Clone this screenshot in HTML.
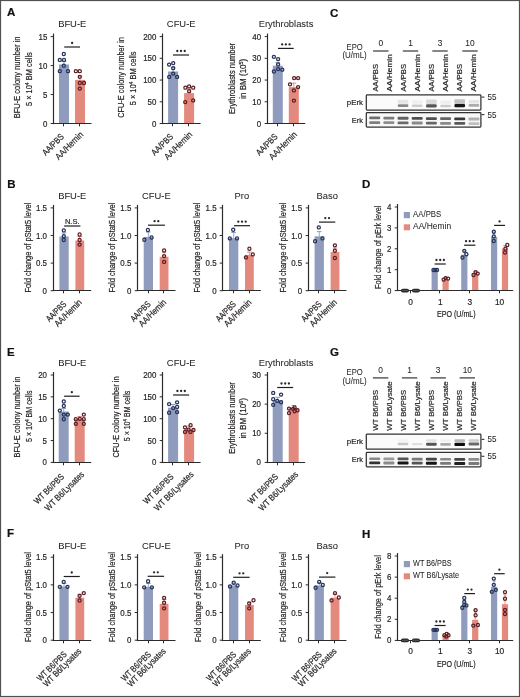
<!DOCTYPE html><html><head><meta charset="utf-8"><style>html,body{margin:0;padding:0;background:#fff;}svg{display:block;will-change:transform;font-family:"Liberation Sans", sans-serif;}</style></head><body><svg width="520" height="697" viewBox="0 0 520 697" fill="#231f20"><rect x="0.5" y="0.5" width="519" height="696" fill="none" stroke="#505050" stroke-width="1.2"/>
<text x="7.00" y="16.30" font-size="11.5" text-anchor="start" stroke="#111" stroke-width="0.2" font-weight="bold" fill="#111">A</text>
<text x="330.00" y="16.60" font-size="11.5" text-anchor="start" stroke="#111" stroke-width="0.2" font-weight="bold" fill="#111">C</text>
<text x="7.30" y="188.20" font-size="11.5" text-anchor="start" stroke="#111" stroke-width="0.2" font-weight="bold" fill="#111">B</text>
<text x="362.00" y="188.20" font-size="11.5" text-anchor="start" stroke="#111" stroke-width="0.2" font-weight="bold" fill="#111">D</text>
<text x="7.00" y="355.50" font-size="11.5" text-anchor="start" stroke="#111" stroke-width="0.2" font-weight="bold" fill="#111">E</text>
<text x="330.00" y="355.50" font-size="11.5" text-anchor="start" stroke="#111" stroke-width="0.2" font-weight="bold" fill="#111">G</text>
<text x="7.00" y="537.40" font-size="11.5" text-anchor="start" stroke="#111" stroke-width="0.2" font-weight="bold" fill="#111">F</text>
<text x="362.00" y="537.60" font-size="11.5" text-anchor="start" stroke="#111" stroke-width="0.2" font-weight="bold" fill="#111">H</text>
<rect x="59.00" y="64.50" width="10.00" height="59.00" fill="#8f9cbd"/>
<rect x="75.00" y="79.90" width="10.00" height="43.60" fill="#e3897d"/>
<line x1="64.00" y1="64.50" x2="64.00" y2="61.50" stroke="#8f9cbd" stroke-width="0.9"/>
<line x1="61.70" y1="61.50" x2="66.30" y2="61.50" stroke="#8f9cbd" stroke-width="1.0"/>
<line x1="80.00" y1="79.90" x2="80.00" y2="76.00" stroke="#e3897d" stroke-width="0.9"/>
<line x1="77.70" y1="76.00" x2="82.30" y2="76.00" stroke="#e3897d" stroke-width="1.0"/>
<line x1="53.50" y1="33.60" x2="53.50" y2="124.10" stroke="#2b2b2b" stroke-width="1.2"/>
<line x1="52.90" y1="123.50" x2="91.50" y2="123.50" stroke="#2b2b2b" stroke-width="1.2"/>
<line x1="50.70" y1="123.50" x2="53.50" y2="123.50" stroke="#2b2b2b" stroke-width="1.0"/>
<text x="47.30" y="126.58" font-size="8.8" text-anchor="end" stroke="#231f20" stroke-width="0.2" textLength="4.4" lengthAdjust="spacingAndGlyphs">0</text>
<line x1="50.70" y1="94.53" x2="53.50" y2="94.53" stroke="#2b2b2b" stroke-width="1.0"/>
<text x="47.30" y="97.61" font-size="8.8" text-anchor="end" stroke="#231f20" stroke-width="0.2" textLength="4.4" lengthAdjust="spacingAndGlyphs">5</text>
<line x1="50.70" y1="65.57" x2="53.50" y2="65.57" stroke="#2b2b2b" stroke-width="1.0"/>
<text x="47.30" y="68.65" font-size="8.8" text-anchor="end" stroke="#231f20" stroke-width="0.2" textLength="8.81" lengthAdjust="spacingAndGlyphs">10</text>
<line x1="50.70" y1="36.60" x2="53.50" y2="36.60" stroke="#2b2b2b" stroke-width="1.0"/>
<text x="47.30" y="39.68" font-size="8.8" text-anchor="end" stroke="#231f20" stroke-width="0.2" textLength="8.81" lengthAdjust="spacingAndGlyphs">15</text>
<line x1="63.50" y1="123.50" x2="63.50" y2="126.30" stroke="#2b2b2b" stroke-width="1.0"/>
<line x1="79.50" y1="123.50" x2="79.50" y2="126.30" stroke="#2b2b2b" stroke-width="1.0"/>
<circle cx="63.80" cy="54.00" r="1.55" fill="none" stroke="#26345a" stroke-width="1.25"/>
<circle cx="59.80" cy="59.90" r="1.55" fill="none" stroke="#26345a" stroke-width="1.25"/>
<circle cx="64.00" cy="59.90" r="1.55" fill="none" stroke="#26345a" stroke-width="1.25"/>
<circle cx="63.80" cy="65.70" r="1.55" fill="none" stroke="#26345a" stroke-width="1.25"/>
<circle cx="59.80" cy="71.20" r="1.55" fill="none" stroke="#26345a" stroke-width="1.25"/>
<circle cx="68.00" cy="71.20" r="1.55" fill="none" stroke="#26345a" stroke-width="1.25"/>
<circle cx="75.90" cy="71.20" r="1.55" fill="none" stroke="#5e2028" stroke-width="1.25"/>
<circle cx="79.80" cy="71.20" r="1.55" fill="none" stroke="#5e2028" stroke-width="1.25"/>
<circle cx="79.80" cy="76.80" r="1.55" fill="none" stroke="#5e2028" stroke-width="1.25"/>
<circle cx="79.80" cy="83.00" r="1.55" fill="none" stroke="#5e2028" stroke-width="1.25"/>
<circle cx="84.00" cy="83.00" r="1.55" fill="none" stroke="#5e2028" stroke-width="1.25"/>
<circle cx="79.80" cy="88.60" r="1.55" fill="none" stroke="#5e2028" stroke-width="1.25"/>
<text x="72.20" y="27.30" font-size="9.4" text-anchor="middle" stroke="#231f20" stroke-width="0.05">BFU-E</text>
<text x="20.20" y="77.40" font-size="8.8" text-anchor="middle" stroke="#231f20" stroke-width="0.2" textLength="81.7" lengthAdjust="spacingAndGlyphs" transform="rotate(-90 20.20 77.40)">BFU-E colony number in</text>
<text x="31.70" y="79.10" font-size="8.8" text-anchor="middle" stroke="#231f20" stroke-width="0.2" textLength="53.8" lengthAdjust="spacingAndGlyphs" transform="rotate(-90 31.70 79.10)">5 × 10<tspan dy="-3" font-size="6">4</tspan><tspan dy="3"> BM cells</tspan></text>
<line x1="64.20" y1="47.00" x2="80.00" y2="47.00" stroke="#1e1e1e" stroke-width="1.2"/>
<circle cx="72.10" cy="43.00" r="1.15" fill="#262626"/>
<text x="64.50" y="137.30" font-size="8.9" text-anchor="end" stroke="#231f20" stroke-width="0.2" textLength="26.5" lengthAdjust="spacingAndGlyphs" transform="rotate(-45 64.50 137.30)">AA/PBS</text>
<text x="83.80" y="135.10" font-size="8.9" text-anchor="end" stroke="#231f20" stroke-width="0.2" textLength="35.5" lengthAdjust="spacingAndGlyphs" transform="rotate(-45 83.80 135.10)">AA/Hemin</text>
<rect x="168.10" y="71.50" width="10.00" height="52.00" fill="#8f9cbd"/>
<rect x="184.10" y="93.10" width="10.00" height="30.40" fill="#e3897d"/>
<line x1="173.10" y1="71.50" x2="173.10" y2="67.50" stroke="#8f9cbd" stroke-width="0.9"/>
<line x1="170.80" y1="67.50" x2="175.40" y2="67.50" stroke="#8f9cbd" stroke-width="1.0"/>
<line x1="189.10" y1="93.10" x2="189.10" y2="89.00" stroke="#e3897d" stroke-width="0.9"/>
<line x1="186.80" y1="89.00" x2="191.40" y2="89.00" stroke="#e3897d" stroke-width="1.0"/>
<line x1="162.50" y1="33.60" x2="162.50" y2="124.10" stroke="#2b2b2b" stroke-width="1.2"/>
<line x1="161.90" y1="123.50" x2="200.60" y2="123.50" stroke="#2b2b2b" stroke-width="1.2"/>
<line x1="159.70" y1="123.50" x2="162.50" y2="123.50" stroke="#2b2b2b" stroke-width="1.0"/>
<text x="156.40" y="126.58" font-size="8.8" text-anchor="end" stroke="#231f20" stroke-width="0.2" textLength="4.4" lengthAdjust="spacingAndGlyphs">0</text>
<line x1="159.70" y1="101.78" x2="162.50" y2="101.78" stroke="#2b2b2b" stroke-width="1.0"/>
<text x="156.40" y="104.86" font-size="8.8" text-anchor="end" stroke="#231f20" stroke-width="0.2" textLength="8.81" lengthAdjust="spacingAndGlyphs">50</text>
<line x1="159.70" y1="80.05" x2="162.50" y2="80.05" stroke="#2b2b2b" stroke-width="1.0"/>
<text x="156.40" y="83.13" font-size="8.8" text-anchor="end" stroke="#231f20" stroke-width="0.2" textLength="13.21" lengthAdjust="spacingAndGlyphs">100</text>
<line x1="159.70" y1="58.32" x2="162.50" y2="58.32" stroke="#2b2b2b" stroke-width="1.0"/>
<text x="156.40" y="61.40" font-size="8.8" text-anchor="end" stroke="#231f20" stroke-width="0.2" textLength="13.21" lengthAdjust="spacingAndGlyphs">150</text>
<line x1="159.70" y1="36.60" x2="162.50" y2="36.60" stroke="#2b2b2b" stroke-width="1.0"/>
<text x="156.40" y="39.68" font-size="8.8" text-anchor="end" stroke="#231f20" stroke-width="0.2" textLength="13.21" lengthAdjust="spacingAndGlyphs">200</text>
<line x1="172.50" y1="123.50" x2="172.50" y2="126.30" stroke="#2b2b2b" stroke-width="1.0"/>
<line x1="188.50" y1="123.50" x2="188.50" y2="126.30" stroke="#2b2b2b" stroke-width="1.0"/>
<circle cx="169.10" cy="64.60" r="1.55" fill="none" stroke="#26345a" stroke-width="1.25"/>
<circle cx="173.20" cy="63.10" r="1.55" fill="none" stroke="#26345a" stroke-width="1.25"/>
<circle cx="173.20" cy="68.20" r="1.55" fill="none" stroke="#26345a" stroke-width="1.25"/>
<circle cx="173.20" cy="73.60" r="1.55" fill="none" stroke="#26345a" stroke-width="1.25"/>
<circle cx="169.20" cy="76.90" r="1.55" fill="none" stroke="#26345a" stroke-width="1.25"/>
<circle cx="177.10" cy="76.90" r="1.55" fill="none" stroke="#26345a" stroke-width="1.25"/>
<circle cx="185.40" cy="87.70" r="1.55" fill="none" stroke="#5e2028" stroke-width="1.25"/>
<circle cx="189.10" cy="86.40" r="1.55" fill="none" stroke="#5e2028" stroke-width="1.25"/>
<circle cx="193.20" cy="87.70" r="1.55" fill="none" stroke="#5e2028" stroke-width="1.25"/>
<circle cx="189.10" cy="91.20" r="1.55" fill="none" stroke="#5e2028" stroke-width="1.25"/>
<circle cx="185.20" cy="102.10" r="1.55" fill="none" stroke="#5e2028" stroke-width="1.25"/>
<circle cx="193.20" cy="100.40" r="1.55" fill="none" stroke="#5e2028" stroke-width="1.25"/>
<text x="181.20" y="27.30" font-size="9.4" text-anchor="middle" stroke="#231f20" stroke-width="0.05">CFU-E</text>
<text x="124.30" y="77.50" font-size="8.8" text-anchor="middle" stroke="#231f20" stroke-width="0.2" textLength="80.6" lengthAdjust="spacingAndGlyphs" transform="rotate(-90 124.30 77.50)">CFU-E colony number in</text>
<text x="135.80" y="78.40" font-size="8.8" text-anchor="middle" stroke="#231f20" stroke-width="0.2" textLength="53.8" lengthAdjust="spacingAndGlyphs" transform="rotate(-90 135.80 78.40)">5 × 10<tspan dy="-3" font-size="6">4</tspan><tspan dy="3"> BM cells</tspan></text>
<line x1="173.00" y1="55.00" x2="189.00" y2="55.00" stroke="#1e1e1e" stroke-width="1.2"/>
<circle cx="177.30" cy="51.00" r="1.15" fill="#262626"/>
<circle cx="181.00" cy="51.00" r="1.15" fill="#262626"/>
<circle cx="184.70" cy="51.00" r="1.15" fill="#262626"/>
<text x="173.60" y="137.30" font-size="8.9" text-anchor="end" stroke="#231f20" stroke-width="0.2" textLength="26.5" lengthAdjust="spacingAndGlyphs" transform="rotate(-45 173.60 137.30)">AA/PBS</text>
<text x="192.90" y="135.10" font-size="8.9" text-anchor="end" stroke="#231f20" stroke-width="0.2" textLength="35.5" lengthAdjust="spacingAndGlyphs" transform="rotate(-45 192.90 135.10)">AA/Hemin</text>
<rect x="272.80" y="65.70" width="10.00" height="57.80" fill="#8f9cbd"/>
<rect x="288.80" y="87.10" width="10.00" height="36.40" fill="#e3897d"/>
<line x1="277.80" y1="65.70" x2="277.80" y2="62.40" stroke="#8f9cbd" stroke-width="0.9"/>
<line x1="275.50" y1="62.40" x2="280.10" y2="62.40" stroke="#8f9cbd" stroke-width="1.0"/>
<line x1="293.80" y1="87.10" x2="293.80" y2="83.10" stroke="#e3897d" stroke-width="0.9"/>
<line x1="291.50" y1="83.10" x2="296.10" y2="83.10" stroke="#e3897d" stroke-width="1.0"/>
<line x1="267.50" y1="33.60" x2="267.50" y2="124.10" stroke="#2b2b2b" stroke-width="1.2"/>
<line x1="266.90" y1="123.50" x2="305.30" y2="123.50" stroke="#2b2b2b" stroke-width="1.2"/>
<line x1="264.70" y1="123.50" x2="267.50" y2="123.50" stroke="#2b2b2b" stroke-width="1.0"/>
<text x="261.10" y="126.58" font-size="8.8" text-anchor="end" stroke="#231f20" stroke-width="0.2" textLength="4.4" lengthAdjust="spacingAndGlyphs">0</text>
<line x1="264.70" y1="101.78" x2="267.50" y2="101.78" stroke="#2b2b2b" stroke-width="1.0"/>
<text x="261.10" y="104.86" font-size="8.8" text-anchor="end" stroke="#231f20" stroke-width="0.2" textLength="8.81" lengthAdjust="spacingAndGlyphs">10</text>
<line x1="264.70" y1="80.05" x2="267.50" y2="80.05" stroke="#2b2b2b" stroke-width="1.0"/>
<text x="261.10" y="83.13" font-size="8.8" text-anchor="end" stroke="#231f20" stroke-width="0.2" textLength="8.81" lengthAdjust="spacingAndGlyphs">20</text>
<line x1="264.70" y1="58.32" x2="267.50" y2="58.32" stroke="#2b2b2b" stroke-width="1.0"/>
<text x="261.10" y="61.40" font-size="8.8" text-anchor="end" stroke="#231f20" stroke-width="0.2" textLength="8.81" lengthAdjust="spacingAndGlyphs">30</text>
<line x1="264.70" y1="36.60" x2="267.50" y2="36.60" stroke="#2b2b2b" stroke-width="1.0"/>
<text x="261.10" y="39.68" font-size="8.8" text-anchor="end" stroke="#231f20" stroke-width="0.2" textLength="8.81" lengthAdjust="spacingAndGlyphs">40</text>
<line x1="277.50" y1="123.50" x2="277.50" y2="126.30" stroke="#2b2b2b" stroke-width="1.0"/>
<line x1="293.50" y1="123.50" x2="293.50" y2="126.30" stroke="#2b2b2b" stroke-width="1.0"/>
<circle cx="273.90" cy="56.80" r="1.55" fill="none" stroke="#26345a" stroke-width="1.25"/>
<circle cx="278.10" cy="59.10" r="1.55" fill="none" stroke="#26345a" stroke-width="1.25"/>
<circle cx="278.10" cy="64.40" r="1.55" fill="none" stroke="#26345a" stroke-width="1.25"/>
<circle cx="278.10" cy="69.10" r="1.55" fill="none" stroke="#26345a" stroke-width="1.25"/>
<circle cx="282.30" cy="69.70" r="1.55" fill="none" stroke="#26345a" stroke-width="1.25"/>
<circle cx="273.90" cy="71.50" r="1.55" fill="none" stroke="#26345a" stroke-width="1.25"/>
<circle cx="294.10" cy="78.10" r="1.55" fill="none" stroke="#5e2028" stroke-width="1.25"/>
<circle cx="298.10" cy="78.10" r="1.55" fill="none" stroke="#5e2028" stroke-width="1.25"/>
<circle cx="290.00" cy="84.30" r="1.55" fill="none" stroke="#5e2028" stroke-width="1.25"/>
<circle cx="298.10" cy="87.10" r="1.55" fill="none" stroke="#5e2028" stroke-width="1.25"/>
<circle cx="293.90" cy="90.40" r="1.55" fill="none" stroke="#5e2028" stroke-width="1.25"/>
<circle cx="293.90" cy="100.60" r="1.55" fill="none" stroke="#5e2028" stroke-width="1.25"/>
<text x="286.00" y="27.30" font-size="9.4" text-anchor="middle" stroke="#231f20" stroke-width="0.05">Erythroblasts</text>
<text x="234.90" y="78.40" font-size="8.8" text-anchor="middle" stroke="#231f20" stroke-width="0.2" textLength="71" lengthAdjust="spacingAndGlyphs" transform="rotate(-90 234.90 78.40)">Erythroblasts number</text>
<text x="245.60" y="78.70" font-size="8.8" text-anchor="middle" stroke="#231f20" stroke-width="0.2" textLength="40" lengthAdjust="spacingAndGlyphs" transform="rotate(-90 245.60 78.70)">in BM (10<tspan dy="-3" font-size="6">5</tspan><tspan dy="3">)</tspan></text>
<line x1="278.00" y1="48.40" x2="293.70" y2="48.40" stroke="#1e1e1e" stroke-width="1.2"/>
<circle cx="282.15" cy="44.40" r="1.15" fill="#262626"/>
<circle cx="285.85" cy="44.40" r="1.15" fill="#262626"/>
<circle cx="289.55" cy="44.40" r="1.15" fill="#262626"/>
<text x="278.30" y="137.30" font-size="8.9" text-anchor="end" stroke="#231f20" stroke-width="0.2" textLength="26.5" lengthAdjust="spacingAndGlyphs" transform="rotate(-45 278.30 137.30)">AA/PBS</text>
<text x="297.60" y="135.10" font-size="8.9" text-anchor="end" stroke="#231f20" stroke-width="0.2" textLength="35.5" lengthAdjust="spacingAndGlyphs" transform="rotate(-45 297.60 135.10)">AA/Hemin</text>
<rect x="58.70" y="411.50" width="10.00" height="50.90" fill="#8f9cbd"/>
<rect x="74.70" y="418.80" width="10.00" height="43.60" fill="#e3897d"/>
<line x1="63.70" y1="411.50" x2="63.70" y2="408.50" stroke="#8f9cbd" stroke-width="0.9"/>
<line x1="61.40" y1="408.50" x2="66.00" y2="408.50" stroke="#8f9cbd" stroke-width="1.0"/>
<line x1="79.70" y1="418.80" x2="79.70" y2="416.50" stroke="#e3897d" stroke-width="0.9"/>
<line x1="77.40" y1="416.50" x2="82.00" y2="416.50" stroke="#e3897d" stroke-width="1.0"/>
<line x1="53.50" y1="372.00" x2="53.50" y2="463.10" stroke="#2b2b2b" stroke-width="1.2"/>
<line x1="52.90" y1="462.50" x2="91.20" y2="462.50" stroke="#2b2b2b" stroke-width="1.2"/>
<line x1="50.70" y1="462.40" x2="53.50" y2="462.40" stroke="#2b2b2b" stroke-width="1.0"/>
<text x="47.00" y="465.48" font-size="8.8" text-anchor="end" stroke="#231f20" stroke-width="0.2" textLength="4.4" lengthAdjust="spacingAndGlyphs">0</text>
<line x1="50.70" y1="440.55" x2="53.50" y2="440.55" stroke="#2b2b2b" stroke-width="1.0"/>
<text x="47.00" y="443.63" font-size="8.8" text-anchor="end" stroke="#231f20" stroke-width="0.2" textLength="4.4" lengthAdjust="spacingAndGlyphs">5</text>
<line x1="50.70" y1="418.70" x2="53.50" y2="418.70" stroke="#2b2b2b" stroke-width="1.0"/>
<text x="47.00" y="421.78" font-size="8.8" text-anchor="end" stroke="#231f20" stroke-width="0.2" textLength="8.81" lengthAdjust="spacingAndGlyphs">10</text>
<line x1="50.70" y1="396.85" x2="53.50" y2="396.85" stroke="#2b2b2b" stroke-width="1.0"/>
<text x="47.00" y="399.93" font-size="8.8" text-anchor="end" stroke="#231f20" stroke-width="0.2" textLength="8.81" lengthAdjust="spacingAndGlyphs">15</text>
<line x1="50.70" y1="375.00" x2="53.50" y2="375.00" stroke="#2b2b2b" stroke-width="1.0"/>
<text x="47.00" y="378.08" font-size="8.8" text-anchor="end" stroke="#231f20" stroke-width="0.2" textLength="8.81" lengthAdjust="spacingAndGlyphs">20</text>
<line x1="63.50" y1="462.50" x2="63.50" y2="465.30" stroke="#2b2b2b" stroke-width="1.0"/>
<line x1="79.50" y1="462.50" x2="79.50" y2="465.30" stroke="#2b2b2b" stroke-width="1.0"/>
<circle cx="63.80" cy="401.50" r="1.55" fill="none" stroke="#26345a" stroke-width="1.25"/>
<circle cx="63.80" cy="405.90" r="1.55" fill="none" stroke="#26345a" stroke-width="1.25"/>
<circle cx="59.80" cy="410.60" r="1.55" fill="none" stroke="#26345a" stroke-width="1.25"/>
<circle cx="63.80" cy="414.60" r="1.55" fill="none" stroke="#26345a" stroke-width="1.25"/>
<circle cx="67.80" cy="414.60" r="1.55" fill="none" stroke="#26345a" stroke-width="1.25"/>
<circle cx="63.80" cy="419.20" r="1.55" fill="none" stroke="#26345a" stroke-width="1.25"/>
<circle cx="83.80" cy="414.60" r="1.55" fill="none" stroke="#5e2028" stroke-width="1.25"/>
<circle cx="75.80" cy="419.20" r="1.55" fill="none" stroke="#5e2028" stroke-width="1.25"/>
<circle cx="79.80" cy="418.80" r="1.55" fill="none" stroke="#5e2028" stroke-width="1.25"/>
<circle cx="83.80" cy="419.20" r="1.55" fill="none" stroke="#5e2028" stroke-width="1.25"/>
<circle cx="75.80" cy="423.80" r="1.55" fill="none" stroke="#5e2028" stroke-width="1.25"/>
<circle cx="83.80" cy="423.80" r="1.55" fill="none" stroke="#5e2028" stroke-width="1.25"/>
<text x="72.20" y="366.10" font-size="9.4" text-anchor="middle" stroke="#231f20" stroke-width="0.05">BFU-E</text>
<text x="20.20" y="417.00" font-size="8.8" text-anchor="middle" stroke="#231f20" stroke-width="0.2" textLength="81" lengthAdjust="spacingAndGlyphs" transform="rotate(-90 20.20 417.00)">BFU-E colony number in</text>
<text x="31.60" y="416.30" font-size="8.8" text-anchor="middle" stroke="#231f20" stroke-width="0.2" textLength="51.5" lengthAdjust="spacingAndGlyphs" transform="rotate(-90 31.60 416.30)">5 × 10<tspan dy="-3" font-size="6">4</tspan><tspan dy="3"> BM cells</tspan></text>
<line x1="64.10" y1="396.20" x2="79.60" y2="396.20" stroke="#1e1e1e" stroke-width="1.2"/>
<circle cx="71.85" cy="392.20" r="1.15" fill="#262626"/>
<text x="64.70" y="477.40" font-size="8.9" text-anchor="end" stroke="#231f20" stroke-width="0.2" textLength="38.5" lengthAdjust="spacingAndGlyphs" transform="rotate(-45 64.70 477.40)">WT B6/PBS</text>
<text x="84.70" y="475.00" font-size="8.9" text-anchor="end" stroke="#231f20" stroke-width="0.2" textLength="51.5" lengthAdjust="spacingAndGlyphs" transform="rotate(-45 84.70 475.00)">WT B6/Lysates</text>
<rect x="168.10" y="407.70" width="10.00" height="54.70" fill="#8f9cbd"/>
<rect x="184.10" y="429.20" width="10.00" height="33.20" fill="#e3897d"/>
<line x1="173.10" y1="407.70" x2="173.10" y2="404.50" stroke="#8f9cbd" stroke-width="0.9"/>
<line x1="170.80" y1="404.50" x2="175.40" y2="404.50" stroke="#8f9cbd" stroke-width="1.0"/>
<line x1="189.10" y1="429.20" x2="189.10" y2="426.00" stroke="#e3897d" stroke-width="0.9"/>
<line x1="186.80" y1="426.00" x2="191.40" y2="426.00" stroke="#e3897d" stroke-width="1.0"/>
<line x1="162.50" y1="372.00" x2="162.50" y2="463.10" stroke="#2b2b2b" stroke-width="1.2"/>
<line x1="161.90" y1="462.50" x2="200.60" y2="462.50" stroke="#2b2b2b" stroke-width="1.2"/>
<line x1="159.70" y1="462.40" x2="162.50" y2="462.40" stroke="#2b2b2b" stroke-width="1.0"/>
<text x="156.40" y="465.48" font-size="8.8" text-anchor="end" stroke="#231f20" stroke-width="0.2" textLength="4.4" lengthAdjust="spacingAndGlyphs">0</text>
<line x1="159.70" y1="440.55" x2="162.50" y2="440.55" stroke="#2b2b2b" stroke-width="1.0"/>
<text x="156.40" y="443.63" font-size="8.8" text-anchor="end" stroke="#231f20" stroke-width="0.2" textLength="8.81" lengthAdjust="spacingAndGlyphs">50</text>
<line x1="159.70" y1="418.70" x2="162.50" y2="418.70" stroke="#2b2b2b" stroke-width="1.0"/>
<text x="156.40" y="421.78" font-size="8.8" text-anchor="end" stroke="#231f20" stroke-width="0.2" textLength="13.21" lengthAdjust="spacingAndGlyphs">100</text>
<line x1="159.70" y1="396.85" x2="162.50" y2="396.85" stroke="#2b2b2b" stroke-width="1.0"/>
<text x="156.40" y="399.93" font-size="8.8" text-anchor="end" stroke="#231f20" stroke-width="0.2" textLength="13.21" lengthAdjust="spacingAndGlyphs">150</text>
<line x1="159.70" y1="375.00" x2="162.50" y2="375.00" stroke="#2b2b2b" stroke-width="1.0"/>
<text x="156.40" y="378.08" font-size="8.8" text-anchor="end" stroke="#231f20" stroke-width="0.2" textLength="13.21" lengthAdjust="spacingAndGlyphs">200</text>
<line x1="172.50" y1="462.50" x2="172.50" y2="465.30" stroke="#2b2b2b" stroke-width="1.0"/>
<line x1="188.50" y1="462.50" x2="188.50" y2="465.30" stroke="#2b2b2b" stroke-width="1.0"/>
<circle cx="169.10" cy="404.10" r="1.55" fill="none" stroke="#26345a" stroke-width="1.25"/>
<circle cx="177.10" cy="402.30" r="1.55" fill="none" stroke="#26345a" stroke-width="1.25"/>
<circle cx="173.20" cy="408.10" r="1.55" fill="none" stroke="#26345a" stroke-width="1.25"/>
<circle cx="177.10" cy="406.90" r="1.55" fill="none" stroke="#26345a" stroke-width="1.25"/>
<circle cx="169.10" cy="412.70" r="1.55" fill="none" stroke="#26345a" stroke-width="1.25"/>
<circle cx="177.10" cy="412.10" r="1.55" fill="none" stroke="#26345a" stroke-width="1.25"/>
<circle cx="190.60" cy="425.20" r="1.55" fill="none" stroke="#5e2028" stroke-width="1.25"/>
<circle cx="185.00" cy="427.30" r="1.55" fill="none" stroke="#5e2028" stroke-width="1.25"/>
<circle cx="188.60" cy="429.60" r="1.55" fill="none" stroke="#5e2028" stroke-width="1.25"/>
<circle cx="193.50" cy="430.00" r="1.55" fill="none" stroke="#5e2028" stroke-width="1.25"/>
<circle cx="185.00" cy="431.90" r="1.55" fill="none" stroke="#5e2028" stroke-width="1.25"/>
<circle cx="190.40" cy="431.90" r="1.55" fill="none" stroke="#5e2028" stroke-width="1.25"/>
<text x="181.20" y="366.10" font-size="9.4" text-anchor="middle" stroke="#231f20" stroke-width="0.05">CFU-E</text>
<text x="118.60" y="417.00" font-size="8.8" text-anchor="middle" stroke="#231f20" stroke-width="0.2" textLength="81" lengthAdjust="spacingAndGlyphs" transform="rotate(-90 118.60 417.00)">CFU-E colony number in</text>
<text x="130.10" y="415.90" font-size="8.8" text-anchor="middle" stroke="#231f20" stroke-width="0.2" textLength="50.5" lengthAdjust="spacingAndGlyphs" transform="rotate(-90 130.10 415.90)">5 × 10<tspan dy="-3" font-size="6">4</tspan><tspan dy="3"> BM cells</tspan></text>
<line x1="173.10" y1="395.00" x2="189.10" y2="395.00" stroke="#1e1e1e" stroke-width="1.2"/>
<circle cx="177.40" cy="391.00" r="1.15" fill="#262626"/>
<circle cx="181.10" cy="391.00" r="1.15" fill="#262626"/>
<circle cx="184.80" cy="391.00" r="1.15" fill="#262626"/>
<text x="174.10" y="477.40" font-size="8.9" text-anchor="end" stroke="#231f20" stroke-width="0.2" textLength="38.5" lengthAdjust="spacingAndGlyphs" transform="rotate(-45 174.10 477.40)">WT B6/PBS</text>
<text x="194.10" y="475.00" font-size="8.9" text-anchor="end" stroke="#231f20" stroke-width="0.2" textLength="51.5" lengthAdjust="spacingAndGlyphs" transform="rotate(-45 194.10 475.00)">WT B6/Lysates</text>
<rect x="272.70" y="400.40" width="10.00" height="62.00" fill="#8f9cbd"/>
<rect x="288.70" y="408.10" width="10.00" height="54.30" fill="#e3897d"/>
<line x1="277.70" y1="400.40" x2="277.70" y2="397.30" stroke="#8f9cbd" stroke-width="0.9"/>
<line x1="275.40" y1="397.30" x2="280.00" y2="397.30" stroke="#8f9cbd" stroke-width="1.0"/>
<line x1="293.70" y1="408.10" x2="293.70" y2="405.50" stroke="#e3897d" stroke-width="0.9"/>
<line x1="291.40" y1="405.50" x2="296.00" y2="405.50" stroke="#e3897d" stroke-width="1.0"/>
<line x1="267.50" y1="372.00" x2="267.50" y2="463.10" stroke="#2b2b2b" stroke-width="1.2"/>
<line x1="266.90" y1="462.50" x2="305.20" y2="462.50" stroke="#2b2b2b" stroke-width="1.2"/>
<line x1="264.70" y1="462.40" x2="267.50" y2="462.40" stroke="#2b2b2b" stroke-width="1.0"/>
<text x="261.00" y="465.48" font-size="8.8" text-anchor="end" stroke="#231f20" stroke-width="0.2" textLength="4.4" lengthAdjust="spacingAndGlyphs">0</text>
<line x1="264.70" y1="433.27" x2="267.50" y2="433.27" stroke="#2b2b2b" stroke-width="1.0"/>
<text x="261.00" y="436.35" font-size="8.8" text-anchor="end" stroke="#231f20" stroke-width="0.2" textLength="8.81" lengthAdjust="spacingAndGlyphs">10</text>
<line x1="264.70" y1="404.13" x2="267.50" y2="404.13" stroke="#2b2b2b" stroke-width="1.0"/>
<text x="261.00" y="407.21" font-size="8.8" text-anchor="end" stroke="#231f20" stroke-width="0.2" textLength="8.81" lengthAdjust="spacingAndGlyphs">20</text>
<line x1="264.70" y1="375.00" x2="267.50" y2="375.00" stroke="#2b2b2b" stroke-width="1.0"/>
<text x="261.00" y="378.08" font-size="8.8" text-anchor="end" stroke="#231f20" stroke-width="0.2" textLength="8.81" lengthAdjust="spacingAndGlyphs">30</text>
<line x1="277.50" y1="462.50" x2="277.50" y2="465.30" stroke="#2b2b2b" stroke-width="1.0"/>
<line x1="293.50" y1="462.50" x2="293.50" y2="465.30" stroke="#2b2b2b" stroke-width="1.0"/>
<circle cx="273.20" cy="392.90" r="1.55" fill="none" stroke="#26345a" stroke-width="1.25"/>
<circle cx="281.10" cy="394.60" r="1.55" fill="none" stroke="#26345a" stroke-width="1.25"/>
<circle cx="273.20" cy="399.20" r="1.55" fill="none" stroke="#26345a" stroke-width="1.25"/>
<circle cx="277.20" cy="400.90" r="1.55" fill="none" stroke="#26345a" stroke-width="1.25"/>
<circle cx="281.10" cy="402.20" r="1.55" fill="none" stroke="#26345a" stroke-width="1.25"/>
<circle cx="273.20" cy="404.80" r="1.55" fill="none" stroke="#26345a" stroke-width="1.25"/>
<circle cx="289.00" cy="408.60" r="1.55" fill="none" stroke="#5e2028" stroke-width="1.25"/>
<circle cx="294.60" cy="407.30" r="1.55" fill="none" stroke="#5e2028" stroke-width="1.25"/>
<circle cx="294.60" cy="411.20" r="1.55" fill="none" stroke="#5e2028" stroke-width="1.25"/>
<circle cx="297.50" cy="410.20" r="1.55" fill="none" stroke="#5e2028" stroke-width="1.25"/>
<circle cx="289.00" cy="413.10" r="1.55" fill="none" stroke="#5e2028" stroke-width="1.25"/>
<circle cx="293.10" cy="408.80" r="1.55" fill="none" stroke="#5e2028" stroke-width="1.25"/>
<text x="286.00" y="366.10" font-size="9.4" text-anchor="middle" stroke="#231f20" stroke-width="0.05">Erythroblasts</text>
<text x="234.90" y="418.00" font-size="8.8" text-anchor="middle" stroke="#231f20" stroke-width="0.2" textLength="71.7" lengthAdjust="spacingAndGlyphs" transform="rotate(-90 234.90 418.00)">Erythroblasts number</text>
<text x="246.30" y="418.30" font-size="8.8" text-anchor="middle" stroke="#231f20" stroke-width="0.2" textLength="40.6" lengthAdjust="spacingAndGlyphs" transform="rotate(-90 246.30 418.30)">in BM (10<tspan dy="-3" font-size="6">6</tspan><tspan dy="3">)</tspan></text>
<line x1="277.20" y1="387.50" x2="293.20" y2="387.50" stroke="#1e1e1e" stroke-width="1.2"/>
<circle cx="281.50" cy="383.50" r="1.15" fill="#262626"/>
<circle cx="285.20" cy="383.50" r="1.15" fill="#262626"/>
<circle cx="288.90" cy="383.50" r="1.15" fill="#262626"/>
<text x="278.70" y="477.40" font-size="8.9" text-anchor="end" stroke="#231f20" stroke-width="0.2" textLength="38.5" lengthAdjust="spacingAndGlyphs" transform="rotate(-45 278.70 477.40)">WT B6/PBS</text>
<text x="298.70" y="475.00" font-size="8.9" text-anchor="end" stroke="#231f20" stroke-width="0.2" textLength="51.5" lengthAdjust="spacingAndGlyphs" transform="rotate(-45 298.70 475.00)">WT B6/Lysates</text>
<rect x="59.40" y="236.50" width="9.30" height="54.20" fill="#8f9cbd"/>
<rect x="75.40" y="240.50" width="8.80" height="50.20" fill="#e3897d"/>
<line x1="64.05" y1="236.50" x2="64.05" y2="233.00" stroke="#8f9cbd" stroke-width="0.9"/>
<line x1="61.75" y1="233.00" x2="66.35" y2="233.00" stroke="#8f9cbd" stroke-width="1.0"/>
<line x1="79.80" y1="240.50" x2="79.80" y2="236.50" stroke="#e3897d" stroke-width="0.9"/>
<line x1="77.50" y1="236.50" x2="82.10" y2="236.50" stroke="#e3897d" stroke-width="1.0"/>
<line x1="53.50" y1="204.90" x2="53.50" y2="291.10" stroke="#2b2b2b" stroke-width="1.2"/>
<line x1="52.90" y1="290.50" x2="91.20" y2="290.50" stroke="#2b2b2b" stroke-width="1.2"/>
<line x1="50.70" y1="290.70" x2="53.50" y2="290.70" stroke="#2b2b2b" stroke-width="1.0"/>
<text x="47.00" y="293.78" font-size="8.8" text-anchor="end" stroke="#231f20" stroke-width="0.2" textLength="4.4" lengthAdjust="spacingAndGlyphs">0</text>
<line x1="50.70" y1="263.10" x2="53.50" y2="263.10" stroke="#2b2b2b" stroke-width="1.0"/>
<text x="47.00" y="266.18" font-size="8.8" text-anchor="end" stroke="#231f20" stroke-width="0.2" textLength="11.01" lengthAdjust="spacingAndGlyphs">0.5</text>
<line x1="50.70" y1="235.50" x2="53.50" y2="235.50" stroke="#2b2b2b" stroke-width="1.0"/>
<text x="47.00" y="238.58" font-size="8.8" text-anchor="end" stroke="#231f20" stroke-width="0.2" textLength="11.01" lengthAdjust="spacingAndGlyphs">1.0</text>
<line x1="50.70" y1="207.90" x2="53.50" y2="207.90" stroke="#2b2b2b" stroke-width="1.0"/>
<text x="47.00" y="210.98" font-size="8.8" text-anchor="end" stroke="#231f20" stroke-width="0.2" textLength="11.01" lengthAdjust="spacingAndGlyphs">1.5</text>
<line x1="63.50" y1="290.50" x2="63.50" y2="293.30" stroke="#2b2b2b" stroke-width="1.0"/>
<line x1="79.50" y1="290.50" x2="79.50" y2="293.30" stroke="#2b2b2b" stroke-width="1.0"/>
<circle cx="63.80" cy="230.40" r="1.55" fill="none" stroke="#26345a" stroke-width="1.25"/>
<circle cx="63.80" cy="236.20" r="1.55" fill="none" stroke="#26345a" stroke-width="1.25"/>
<circle cx="63.80" cy="240.00" r="1.55" fill="none" stroke="#26345a" stroke-width="1.25"/>
<circle cx="79.60" cy="234.50" r="1.55" fill="none" stroke="#5e2028" stroke-width="1.25"/>
<circle cx="79.60" cy="240.00" r="1.55" fill="none" stroke="#5e2028" stroke-width="1.25"/>
<circle cx="79.60" cy="244.60" r="1.55" fill="none" stroke="#5e2028" stroke-width="1.25"/>
<text x="72.20" y="198.70" font-size="9.4" text-anchor="middle" stroke="#231f20" stroke-width="0.05">BFU-E</text>
<text x="30.90" y="247.60" font-size="8.8" text-anchor="middle" stroke="#231f20" stroke-width="0.2" textLength="90.0" lengthAdjust="spacingAndGlyphs" transform="rotate(-90 30.90 247.60)">Fold change of pStat5 level</text>
<line x1="64.10" y1="226.00" x2="80.40" y2="226.00" stroke="#1e1e1e" stroke-width="1.2"/>
<text x="72.25" y="223.60" font-size="7.7" text-anchor="middle" stroke="#231f20" stroke-width="0.2" textLength="14.6" lengthAdjust="spacingAndGlyphs">N.S.</text>
<text x="66.95" y="304.90" font-size="8.9" text-anchor="end" stroke="#231f20" stroke-width="0.2" textLength="24.5" lengthAdjust="spacingAndGlyphs" transform="rotate(-45 66.95 304.90)">AA/PBS</text>
<text x="82.40" y="302.90" font-size="8.9" text-anchor="end" stroke="#231f20" stroke-width="0.2" textLength="34.5" lengthAdjust="spacingAndGlyphs" transform="rotate(-45 82.40 302.90)">AA/Hemin</text>
<rect x="143.70" y="237.00" width="9.30" height="53.70" fill="#8f9cbd"/>
<rect x="159.70" y="256.80" width="8.80" height="33.90" fill="#e3897d"/>
<line x1="148.35" y1="237.00" x2="148.35" y2="232.00" stroke="#8f9cbd" stroke-width="0.9"/>
<line x1="146.05" y1="232.00" x2="150.65" y2="232.00" stroke="#8f9cbd" stroke-width="1.0"/>
<line x1="164.10" y1="256.80" x2="164.10" y2="252.00" stroke="#e3897d" stroke-width="0.9"/>
<line x1="161.80" y1="252.00" x2="166.40" y2="252.00" stroke="#e3897d" stroke-width="1.0"/>
<line x1="137.50" y1="204.90" x2="137.50" y2="291.10" stroke="#2b2b2b" stroke-width="1.2"/>
<line x1="136.90" y1="290.50" x2="175.50" y2="290.50" stroke="#2b2b2b" stroke-width="1.2"/>
<line x1="134.70" y1="290.70" x2="137.50" y2="290.70" stroke="#2b2b2b" stroke-width="1.0"/>
<text x="131.30" y="293.78" font-size="8.8" text-anchor="end" stroke="#231f20" stroke-width="0.2" textLength="4.4" lengthAdjust="spacingAndGlyphs">0</text>
<line x1="134.70" y1="263.10" x2="137.50" y2="263.10" stroke="#2b2b2b" stroke-width="1.0"/>
<text x="131.30" y="266.18" font-size="8.8" text-anchor="end" stroke="#231f20" stroke-width="0.2" textLength="11.01" lengthAdjust="spacingAndGlyphs">0.5</text>
<line x1="134.70" y1="235.50" x2="137.50" y2="235.50" stroke="#2b2b2b" stroke-width="1.0"/>
<text x="131.30" y="238.58" font-size="8.8" text-anchor="end" stroke="#231f20" stroke-width="0.2" textLength="11.01" lengthAdjust="spacingAndGlyphs">1.0</text>
<line x1="134.70" y1="207.90" x2="137.50" y2="207.90" stroke="#2b2b2b" stroke-width="1.0"/>
<text x="131.30" y="210.98" font-size="8.8" text-anchor="end" stroke="#231f20" stroke-width="0.2" textLength="11.01" lengthAdjust="spacingAndGlyphs">1.5</text>
<line x1="148.50" y1="290.50" x2="148.50" y2="293.30" stroke="#2b2b2b" stroke-width="1.0"/>
<line x1="163.50" y1="290.50" x2="163.50" y2="293.30" stroke="#2b2b2b" stroke-width="1.0"/>
<circle cx="147.90" cy="230.00" r="1.55" fill="none" stroke="#26345a" stroke-width="1.25"/>
<circle cx="144.30" cy="239.70" r="1.55" fill="none" stroke="#26345a" stroke-width="1.25"/>
<circle cx="151.60" cy="237.50" r="1.55" fill="none" stroke="#26345a" stroke-width="1.25"/>
<circle cx="164.10" cy="250.50" r="1.55" fill="none" stroke="#5e2028" stroke-width="1.25"/>
<circle cx="164.10" cy="256.10" r="1.55" fill="none" stroke="#5e2028" stroke-width="1.25"/>
<circle cx="164.10" cy="261.90" r="1.55" fill="none" stroke="#5e2028" stroke-width="1.25"/>
<text x="156.40" y="198.70" font-size="9.4" text-anchor="middle" stroke="#231f20" stroke-width="0.05">CFU-E</text>
<text x="115.20" y="247.60" font-size="8.8" text-anchor="middle" stroke="#231f20" stroke-width="0.2" textLength="90.0" lengthAdjust="spacingAndGlyphs" transform="rotate(-90 115.20 247.60)">Fold change of pStat5 level</text>
<line x1="148.00" y1="225.20" x2="164.90" y2="225.20" stroke="#1e1e1e" stroke-width="1.2"/>
<circle cx="154.60" cy="221.20" r="1.15" fill="#262626"/>
<circle cx="158.30" cy="221.20" r="1.15" fill="#262626"/>
<text x="151.25" y="304.90" font-size="8.9" text-anchor="end" stroke="#231f20" stroke-width="0.2" textLength="24.5" lengthAdjust="spacingAndGlyphs" transform="rotate(-45 151.25 304.90)">AA/PBS</text>
<text x="166.70" y="302.90" font-size="8.9" text-anchor="end" stroke="#231f20" stroke-width="0.2" textLength="34.5" lengthAdjust="spacingAndGlyphs" transform="rotate(-45 166.70 302.90)">AA/Hemin</text>
<rect x="229.00" y="238.10" width="9.30" height="52.60" fill="#8f9cbd"/>
<rect x="245.00" y="254.90" width="8.80" height="35.80" fill="#e3897d"/>
<line x1="233.65" y1="238.10" x2="233.65" y2="232.50" stroke="#8f9cbd" stroke-width="0.9"/>
<line x1="231.35" y1="232.50" x2="235.95" y2="232.50" stroke="#8f9cbd" stroke-width="1.0"/>
<line x1="249.40" y1="254.90" x2="249.40" y2="252.10" stroke="#e3897d" stroke-width="0.9"/>
<line x1="247.10" y1="252.10" x2="251.70" y2="252.10" stroke="#e3897d" stroke-width="1.0"/>
<line x1="222.50" y1="204.90" x2="222.50" y2="291.10" stroke="#2b2b2b" stroke-width="1.2"/>
<line x1="221.90" y1="290.50" x2="260.80" y2="290.50" stroke="#2b2b2b" stroke-width="1.2"/>
<line x1="219.70" y1="290.70" x2="222.50" y2="290.70" stroke="#2b2b2b" stroke-width="1.0"/>
<text x="216.60" y="293.78" font-size="8.8" text-anchor="end" stroke="#231f20" stroke-width="0.2" textLength="4.4" lengthAdjust="spacingAndGlyphs">0</text>
<line x1="219.70" y1="263.10" x2="222.50" y2="263.10" stroke="#2b2b2b" stroke-width="1.0"/>
<text x="216.60" y="266.18" font-size="8.8" text-anchor="end" stroke="#231f20" stroke-width="0.2" textLength="11.01" lengthAdjust="spacingAndGlyphs">0.5</text>
<line x1="219.70" y1="235.50" x2="222.50" y2="235.50" stroke="#2b2b2b" stroke-width="1.0"/>
<text x="216.60" y="238.58" font-size="8.8" text-anchor="end" stroke="#231f20" stroke-width="0.2" textLength="11.01" lengthAdjust="spacingAndGlyphs">1.0</text>
<line x1="219.70" y1="207.90" x2="222.50" y2="207.90" stroke="#2b2b2b" stroke-width="1.0"/>
<text x="216.60" y="210.98" font-size="8.8" text-anchor="end" stroke="#231f20" stroke-width="0.2" textLength="11.01" lengthAdjust="spacingAndGlyphs">1.5</text>
<line x1="233.50" y1="290.50" x2="233.50" y2="293.30" stroke="#2b2b2b" stroke-width="1.0"/>
<line x1="249.50" y1="290.50" x2="249.50" y2="293.30" stroke="#2b2b2b" stroke-width="1.0"/>
<circle cx="233.20" cy="229.70" r="1.55" fill="none" stroke="#26345a" stroke-width="1.25"/>
<circle cx="229.80" cy="238.40" r="1.55" fill="none" stroke="#26345a" stroke-width="1.25"/>
<circle cx="237.00" cy="238.40" r="1.55" fill="none" stroke="#26345a" stroke-width="1.25"/>
<circle cx="249.40" cy="248.70" r="1.55" fill="none" stroke="#5e2028" stroke-width="1.25"/>
<circle cx="252.80" cy="254.40" r="1.55" fill="none" stroke="#5e2028" stroke-width="1.25"/>
<circle cx="245.90" cy="257.40" r="1.55" fill="none" stroke="#5e2028" stroke-width="1.25"/>
<text x="241.80" y="198.70" font-size="9.4" text-anchor="middle" stroke="#231f20" stroke-width="0.05">Pro</text>
<text x="200.50" y="247.60" font-size="8.8" text-anchor="middle" stroke="#231f20" stroke-width="0.2" textLength="90.0" lengthAdjust="spacingAndGlyphs" transform="rotate(-90 200.50 247.60)">Fold change of pStat5 level</text>
<line x1="234.00" y1="225.70" x2="250.00" y2="225.70" stroke="#1e1e1e" stroke-width="1.2"/>
<circle cx="238.30" cy="221.70" r="1.15" fill="#262626"/>
<circle cx="242.00" cy="221.70" r="1.15" fill="#262626"/>
<circle cx="245.70" cy="221.70" r="1.15" fill="#262626"/>
<text x="236.55" y="304.90" font-size="8.9" text-anchor="end" stroke="#231f20" stroke-width="0.2" textLength="24.5" lengthAdjust="spacingAndGlyphs" transform="rotate(-45 236.55 304.90)">AA/PBS</text>
<text x="252.00" y="302.90" font-size="8.9" text-anchor="end" stroke="#231f20" stroke-width="0.2" textLength="34.5" lengthAdjust="spacingAndGlyphs" transform="rotate(-45 252.00 302.90)">AA/Hemin</text>
<rect x="314.60" y="236.30" width="9.30" height="54.40" fill="#8f9cbd"/>
<rect x="330.60" y="252.10" width="8.80" height="38.60" fill="#e3897d"/>
<line x1="319.25" y1="236.30" x2="319.25" y2="231.60" stroke="#8f9cbd" stroke-width="0.9"/>
<line x1="316.95" y1="231.60" x2="321.55" y2="231.60" stroke="#8f9cbd" stroke-width="1.0"/>
<line x1="335.00" y1="252.10" x2="335.00" y2="248.00" stroke="#e3897d" stroke-width="0.9"/>
<line x1="332.70" y1="248.00" x2="337.30" y2="248.00" stroke="#e3897d" stroke-width="1.0"/>
<line x1="308.50" y1="204.90" x2="308.50" y2="291.10" stroke="#2b2b2b" stroke-width="1.2"/>
<line x1="307.90" y1="290.50" x2="346.40" y2="290.50" stroke="#2b2b2b" stroke-width="1.2"/>
<line x1="305.70" y1="290.70" x2="308.50" y2="290.70" stroke="#2b2b2b" stroke-width="1.0"/>
<text x="302.20" y="293.78" font-size="8.8" text-anchor="end" stroke="#231f20" stroke-width="0.2" textLength="4.4" lengthAdjust="spacingAndGlyphs">0</text>
<line x1="305.70" y1="263.10" x2="308.50" y2="263.10" stroke="#2b2b2b" stroke-width="1.0"/>
<text x="302.20" y="266.18" font-size="8.8" text-anchor="end" stroke="#231f20" stroke-width="0.2" textLength="11.01" lengthAdjust="spacingAndGlyphs">0.5</text>
<line x1="305.70" y1="235.50" x2="308.50" y2="235.50" stroke="#2b2b2b" stroke-width="1.0"/>
<text x="302.20" y="238.58" font-size="8.8" text-anchor="end" stroke="#231f20" stroke-width="0.2" textLength="11.01" lengthAdjust="spacingAndGlyphs">1.0</text>
<line x1="305.70" y1="207.90" x2="308.50" y2="207.90" stroke="#2b2b2b" stroke-width="1.0"/>
<text x="302.20" y="210.98" font-size="8.8" text-anchor="end" stroke="#231f20" stroke-width="0.2" textLength="11.01" lengthAdjust="spacingAndGlyphs">1.5</text>
<line x1="318.50" y1="290.50" x2="318.50" y2="293.30" stroke="#2b2b2b" stroke-width="1.0"/>
<line x1="334.50" y1="290.50" x2="334.50" y2="293.30" stroke="#2b2b2b" stroke-width="1.0"/>
<circle cx="318.80" cy="227.40" r="1.55" fill="none" stroke="#26345a" stroke-width="1.25"/>
<circle cx="315.10" cy="241.20" r="1.55" fill="none" stroke="#26345a" stroke-width="1.25"/>
<circle cx="322.50" cy="238.40" r="1.55" fill="none" stroke="#26345a" stroke-width="1.25"/>
<circle cx="334.90" cy="245.30" r="1.55" fill="none" stroke="#5e2028" stroke-width="1.25"/>
<circle cx="334.90" cy="250.70" r="1.55" fill="none" stroke="#5e2028" stroke-width="1.25"/>
<circle cx="334.90" cy="258.00" r="1.55" fill="none" stroke="#5e2028" stroke-width="1.25"/>
<text x="327.20" y="198.70" font-size="9.4" text-anchor="middle" stroke="#231f20" stroke-width="0.05">Baso</text>
<text x="286.10" y="247.60" font-size="8.8" text-anchor="middle" stroke="#231f20" stroke-width="0.2" textLength="90.0" lengthAdjust="spacingAndGlyphs" transform="rotate(-90 286.10 247.60)">Fold change of pStat5 level</text>
<line x1="319.00" y1="222.10" x2="335.30" y2="222.10" stroke="#1e1e1e" stroke-width="1.2"/>
<circle cx="325.30" cy="218.10" r="1.15" fill="#262626"/>
<circle cx="329.00" cy="218.10" r="1.15" fill="#262626"/>
<text x="322.15" y="304.90" font-size="8.9" text-anchor="end" stroke="#231f20" stroke-width="0.2" textLength="24.5" lengthAdjust="spacingAndGlyphs" transform="rotate(-45 322.15 304.90)">AA/PBS</text>
<text x="337.60" y="302.90" font-size="8.9" text-anchor="end" stroke="#231f20" stroke-width="0.2" textLength="34.5" lengthAdjust="spacingAndGlyphs" transform="rotate(-45 337.60 302.90)">AA/Hemin</text>
<rect x="59.40" y="586.50" width="9.30" height="53.70" fill="#8f9cbd"/>
<rect x="75.40" y="597.70" width="8.80" height="42.50" fill="#e3897d"/>
<line x1="64.05" y1="586.50" x2="64.05" y2="583.50" stroke="#8f9cbd" stroke-width="0.9"/>
<line x1="61.75" y1="583.50" x2="66.35" y2="583.50" stroke="#8f9cbd" stroke-width="1.0"/>
<line x1="79.80" y1="597.70" x2="79.80" y2="594.20" stroke="#e3897d" stroke-width="0.9"/>
<line x1="77.50" y1="594.20" x2="82.10" y2="594.20" stroke="#e3897d" stroke-width="1.0"/>
<line x1="53.50" y1="554.20" x2="53.50" y2="641.10" stroke="#2b2b2b" stroke-width="1.2"/>
<line x1="52.90" y1="640.50" x2="91.20" y2="640.50" stroke="#2b2b2b" stroke-width="1.2"/>
<line x1="50.70" y1="640.20" x2="53.50" y2="640.20" stroke="#2b2b2b" stroke-width="1.0"/>
<text x="47.00" y="643.28" font-size="8.8" text-anchor="end" stroke="#231f20" stroke-width="0.2" textLength="4.4" lengthAdjust="spacingAndGlyphs">0</text>
<line x1="50.70" y1="612.53" x2="53.50" y2="612.53" stroke="#2b2b2b" stroke-width="1.0"/>
<text x="47.00" y="615.61" font-size="8.8" text-anchor="end" stroke="#231f20" stroke-width="0.2" textLength="11.01" lengthAdjust="spacingAndGlyphs">0.5</text>
<line x1="50.70" y1="584.87" x2="53.50" y2="584.87" stroke="#2b2b2b" stroke-width="1.0"/>
<text x="47.00" y="587.95" font-size="8.8" text-anchor="end" stroke="#231f20" stroke-width="0.2" textLength="11.01" lengthAdjust="spacingAndGlyphs">1.0</text>
<line x1="50.70" y1="557.20" x2="53.50" y2="557.20" stroke="#2b2b2b" stroke-width="1.0"/>
<text x="47.00" y="560.28" font-size="8.8" text-anchor="end" stroke="#231f20" stroke-width="0.2" textLength="11.01" lengthAdjust="spacingAndGlyphs">1.5</text>
<line x1="63.50" y1="640.50" x2="63.50" y2="643.30" stroke="#2b2b2b" stroke-width="1.0"/>
<line x1="79.50" y1="640.50" x2="79.50" y2="643.30" stroke="#2b2b2b" stroke-width="1.0"/>
<circle cx="63.70" cy="581.80" r="1.55" fill="none" stroke="#26345a" stroke-width="1.25"/>
<circle cx="59.80" cy="586.80" r="1.55" fill="none" stroke="#26345a" stroke-width="1.25"/>
<circle cx="67.50" cy="586.80" r="1.55" fill="none" stroke="#26345a" stroke-width="1.25"/>
<circle cx="83.80" cy="593.10" r="1.55" fill="none" stroke="#5e2028" stroke-width="1.25"/>
<circle cx="79.60" cy="595.80" r="1.55" fill="none" stroke="#5e2028" stroke-width="1.25"/>
<circle cx="79.60" cy="600.50" r="1.55" fill="none" stroke="#5e2028" stroke-width="1.25"/>
<text x="72.20" y="548.90" font-size="9.4" text-anchor="middle" stroke="#231f20" stroke-width="0.05">BFU-E</text>
<text x="30.90" y="597.00" font-size="8.8" text-anchor="middle" stroke="#231f20" stroke-width="0.2" textLength="90.0" lengthAdjust="spacingAndGlyphs" transform="rotate(-90 30.90 597.00)">Fold change of pStat5 level</text>
<line x1="63.70" y1="576.50" x2="79.80" y2="576.50" stroke="#1e1e1e" stroke-width="1.2"/>
<circle cx="71.75" cy="572.50" r="1.15" fill="#262626"/>
<text x="67.25" y="655.00" font-size="8.9" text-anchor="end" stroke="#231f20" stroke-width="0.2" textLength="38" lengthAdjust="spacingAndGlyphs" transform="rotate(-45 67.25 655.00)">WT B6/PBS</text>
<text x="82.00" y="651.80" font-size="8.9" text-anchor="end" stroke="#231f20" stroke-width="0.2" textLength="50" lengthAdjust="spacingAndGlyphs" transform="rotate(-45 82.00 651.80)">WT B6/Lysates</text>
<rect x="143.70" y="586.90" width="9.30" height="53.30" fill="#8f9cbd"/>
<rect x="159.70" y="603.80" width="8.80" height="36.40" fill="#e3897d"/>
<line x1="148.35" y1="586.90" x2="148.35" y2="583.50" stroke="#8f9cbd" stroke-width="0.9"/>
<line x1="146.05" y1="583.50" x2="150.65" y2="583.50" stroke="#8f9cbd" stroke-width="1.0"/>
<line x1="164.10" y1="603.80" x2="164.10" y2="599.50" stroke="#e3897d" stroke-width="0.9"/>
<line x1="161.80" y1="599.50" x2="166.40" y2="599.50" stroke="#e3897d" stroke-width="1.0"/>
<line x1="137.50" y1="554.20" x2="137.50" y2="641.10" stroke="#2b2b2b" stroke-width="1.2"/>
<line x1="136.90" y1="640.50" x2="175.50" y2="640.50" stroke="#2b2b2b" stroke-width="1.2"/>
<line x1="134.70" y1="640.20" x2="137.50" y2="640.20" stroke="#2b2b2b" stroke-width="1.0"/>
<text x="131.30" y="643.28" font-size="8.8" text-anchor="end" stroke="#231f20" stroke-width="0.2" textLength="4.4" lengthAdjust="spacingAndGlyphs">0</text>
<line x1="134.70" y1="612.53" x2="137.50" y2="612.53" stroke="#2b2b2b" stroke-width="1.0"/>
<text x="131.30" y="615.61" font-size="8.8" text-anchor="end" stroke="#231f20" stroke-width="0.2" textLength="11.01" lengthAdjust="spacingAndGlyphs">0.5</text>
<line x1="134.70" y1="584.87" x2="137.50" y2="584.87" stroke="#2b2b2b" stroke-width="1.0"/>
<text x="131.30" y="587.95" font-size="8.8" text-anchor="end" stroke="#231f20" stroke-width="0.2" textLength="11.01" lengthAdjust="spacingAndGlyphs">1.0</text>
<line x1="134.70" y1="557.20" x2="137.50" y2="557.20" stroke="#2b2b2b" stroke-width="1.0"/>
<text x="131.30" y="560.28" font-size="8.8" text-anchor="end" stroke="#231f20" stroke-width="0.2" textLength="11.01" lengthAdjust="spacingAndGlyphs">1.5</text>
<line x1="148.50" y1="640.50" x2="148.50" y2="643.30" stroke="#2b2b2b" stroke-width="1.0"/>
<line x1="163.50" y1="640.50" x2="163.50" y2="643.30" stroke="#2b2b2b" stroke-width="1.0"/>
<circle cx="148.10" cy="581.20" r="1.55" fill="none" stroke="#26345a" stroke-width="1.25"/>
<circle cx="144.20" cy="587.30" r="1.55" fill="none" stroke="#26345a" stroke-width="1.25"/>
<circle cx="151.90" cy="587.30" r="1.55" fill="none" stroke="#26345a" stroke-width="1.25"/>
<circle cx="164.10" cy="597.80" r="1.55" fill="none" stroke="#5e2028" stroke-width="1.25"/>
<circle cx="164.10" cy="602.70" r="1.55" fill="none" stroke="#5e2028" stroke-width="1.25"/>
<circle cx="164.10" cy="608.30" r="1.55" fill="none" stroke="#5e2028" stroke-width="1.25"/>
<text x="156.40" y="548.90" font-size="9.4" text-anchor="middle" stroke="#231f20" stroke-width="0.05">CFU-E</text>
<text x="115.20" y="597.00" font-size="8.8" text-anchor="middle" stroke="#231f20" stroke-width="0.2" textLength="90.0" lengthAdjust="spacingAndGlyphs" transform="rotate(-90 115.20 597.00)">Fold change of pStat5 level</text>
<line x1="147.70" y1="576.30" x2="164.10" y2="576.30" stroke="#1e1e1e" stroke-width="1.2"/>
<circle cx="154.05" cy="572.30" r="1.15" fill="#262626"/>
<circle cx="157.75" cy="572.30" r="1.15" fill="#262626"/>
<text x="151.55" y="655.00" font-size="8.9" text-anchor="end" stroke="#231f20" stroke-width="0.2" textLength="38" lengthAdjust="spacingAndGlyphs" transform="rotate(-45 151.55 655.00)">WT B6/PBS</text>
<text x="166.30" y="651.80" font-size="8.9" text-anchor="end" stroke="#231f20" stroke-width="0.2" textLength="50" lengthAdjust="spacingAndGlyphs" transform="rotate(-45 166.30 651.80)">WT B6/Lysates</text>
<rect x="229.00" y="585.40" width="9.30" height="54.80" fill="#8f9cbd"/>
<rect x="245.00" y="605.00" width="8.80" height="35.20" fill="#e3897d"/>
<line x1="233.65" y1="585.40" x2="233.65" y2="583.00" stroke="#8f9cbd" stroke-width="0.9"/>
<line x1="231.35" y1="583.00" x2="235.95" y2="583.00" stroke="#8f9cbd" stroke-width="1.0"/>
<line x1="249.40" y1="605.00" x2="249.40" y2="602.20" stroke="#e3897d" stroke-width="0.9"/>
<line x1="247.10" y1="602.20" x2="251.70" y2="602.20" stroke="#e3897d" stroke-width="1.0"/>
<line x1="222.50" y1="554.20" x2="222.50" y2="641.10" stroke="#2b2b2b" stroke-width="1.2"/>
<line x1="221.90" y1="640.50" x2="260.80" y2="640.50" stroke="#2b2b2b" stroke-width="1.2"/>
<line x1="219.70" y1="640.20" x2="222.50" y2="640.20" stroke="#2b2b2b" stroke-width="1.0"/>
<text x="216.60" y="643.28" font-size="8.8" text-anchor="end" stroke="#231f20" stroke-width="0.2" textLength="4.4" lengthAdjust="spacingAndGlyphs">0</text>
<line x1="219.70" y1="612.53" x2="222.50" y2="612.53" stroke="#2b2b2b" stroke-width="1.0"/>
<text x="216.60" y="615.61" font-size="8.8" text-anchor="end" stroke="#231f20" stroke-width="0.2" textLength="11.01" lengthAdjust="spacingAndGlyphs">0.5</text>
<line x1="219.70" y1="584.87" x2="222.50" y2="584.87" stroke="#2b2b2b" stroke-width="1.0"/>
<text x="216.60" y="587.95" font-size="8.8" text-anchor="end" stroke="#231f20" stroke-width="0.2" textLength="11.01" lengthAdjust="spacingAndGlyphs">1.0</text>
<line x1="219.70" y1="557.20" x2="222.50" y2="557.20" stroke="#2b2b2b" stroke-width="1.0"/>
<text x="216.60" y="560.28" font-size="8.8" text-anchor="end" stroke="#231f20" stroke-width="0.2" textLength="11.01" lengthAdjust="spacingAndGlyphs">1.5</text>
<line x1="233.50" y1="640.50" x2="233.50" y2="643.30" stroke="#2b2b2b" stroke-width="1.0"/>
<line x1="249.50" y1="640.50" x2="249.50" y2="643.30" stroke="#2b2b2b" stroke-width="1.0"/>
<circle cx="233.70" cy="582.70" r="1.55" fill="none" stroke="#26345a" stroke-width="1.25"/>
<circle cx="230.00" cy="586.50" r="1.55" fill="none" stroke="#26345a" stroke-width="1.25"/>
<circle cx="237.50" cy="585.50" r="1.55" fill="none" stroke="#26345a" stroke-width="1.25"/>
<circle cx="253.50" cy="600.20" r="1.55" fill="none" stroke="#5e2028" stroke-width="1.25"/>
<circle cx="249.20" cy="603.50" r="1.55" fill="none" stroke="#5e2028" stroke-width="1.25"/>
<circle cx="249.20" cy="608.30" r="1.55" fill="none" stroke="#5e2028" stroke-width="1.25"/>
<text x="241.80" y="548.90" font-size="9.4" text-anchor="middle" stroke="#231f20" stroke-width="0.05">Pro</text>
<text x="200.50" y="597.00" font-size="8.8" text-anchor="middle" stroke="#231f20" stroke-width="0.2" textLength="90.0" lengthAdjust="spacingAndGlyphs" transform="rotate(-90 200.50 597.00)">Fold change of pStat5 level</text>
<line x1="233.20" y1="577.30" x2="249.60" y2="577.30" stroke="#1e1e1e" stroke-width="1.2"/>
<circle cx="239.55" cy="573.30" r="1.15" fill="#262626"/>
<circle cx="243.25" cy="573.30" r="1.15" fill="#262626"/>
<text x="236.85" y="655.00" font-size="8.9" text-anchor="end" stroke="#231f20" stroke-width="0.2" textLength="38" lengthAdjust="spacingAndGlyphs" transform="rotate(-45 236.85 655.00)">WT B6/PBS</text>
<text x="251.60" y="651.80" font-size="8.9" text-anchor="end" stroke="#231f20" stroke-width="0.2" textLength="50" lengthAdjust="spacingAndGlyphs" transform="rotate(-45 251.60 651.80)">WT B6/Lysates</text>
<rect x="314.60" y="585.40" width="9.30" height="54.80" fill="#8f9cbd"/>
<rect x="330.60" y="597.70" width="8.80" height="42.50" fill="#e3897d"/>
<line x1="319.25" y1="585.40" x2="319.25" y2="582.50" stroke="#8f9cbd" stroke-width="0.9"/>
<line x1="316.95" y1="582.50" x2="321.55" y2="582.50" stroke="#8f9cbd" stroke-width="1.0"/>
<line x1="335.00" y1="597.70" x2="335.00" y2="594.00" stroke="#e3897d" stroke-width="0.9"/>
<line x1="332.70" y1="594.00" x2="337.30" y2="594.00" stroke="#e3897d" stroke-width="1.0"/>
<line x1="308.50" y1="554.20" x2="308.50" y2="641.10" stroke="#2b2b2b" stroke-width="1.2"/>
<line x1="307.90" y1="640.50" x2="346.40" y2="640.50" stroke="#2b2b2b" stroke-width="1.2"/>
<line x1="305.70" y1="640.20" x2="308.50" y2="640.20" stroke="#2b2b2b" stroke-width="1.0"/>
<text x="302.20" y="643.28" font-size="8.8" text-anchor="end" stroke="#231f20" stroke-width="0.2" textLength="4.4" lengthAdjust="spacingAndGlyphs">0</text>
<line x1="305.70" y1="612.53" x2="308.50" y2="612.53" stroke="#2b2b2b" stroke-width="1.0"/>
<text x="302.20" y="615.61" font-size="8.8" text-anchor="end" stroke="#231f20" stroke-width="0.2" textLength="11.01" lengthAdjust="spacingAndGlyphs">0.5</text>
<line x1="305.70" y1="584.87" x2="308.50" y2="584.87" stroke="#2b2b2b" stroke-width="1.0"/>
<text x="302.20" y="587.95" font-size="8.8" text-anchor="end" stroke="#231f20" stroke-width="0.2" textLength="11.01" lengthAdjust="spacingAndGlyphs">1.0</text>
<line x1="305.70" y1="557.20" x2="308.50" y2="557.20" stroke="#2b2b2b" stroke-width="1.0"/>
<text x="302.20" y="560.28" font-size="8.8" text-anchor="end" stroke="#231f20" stroke-width="0.2" textLength="11.01" lengthAdjust="spacingAndGlyphs">1.5</text>
<line x1="318.50" y1="640.50" x2="318.50" y2="643.30" stroke="#2b2b2b" stroke-width="1.0"/>
<line x1="334.50" y1="640.50" x2="334.50" y2="643.30" stroke="#2b2b2b" stroke-width="1.0"/>
<circle cx="319.20" cy="581.90" r="1.55" fill="none" stroke="#26345a" stroke-width="1.25"/>
<circle cx="322.80" cy="585.00" r="1.55" fill="none" stroke="#26345a" stroke-width="1.25"/>
<circle cx="315.60" cy="587.70" r="1.55" fill="none" stroke="#26345a" stroke-width="1.25"/>
<circle cx="335.00" cy="593.10" r="1.55" fill="none" stroke="#5e2028" stroke-width="1.25"/>
<circle cx="338.80" cy="597.50" r="1.55" fill="none" stroke="#5e2028" stroke-width="1.25"/>
<circle cx="331.50" cy="600.40" r="1.55" fill="none" stroke="#5e2028" stroke-width="1.25"/>
<text x="327.20" y="548.90" font-size="9.4" text-anchor="middle" stroke="#231f20" stroke-width="0.05">Baso</text>
<text x="286.10" y="597.00" font-size="8.8" text-anchor="middle" stroke="#231f20" stroke-width="0.2" textLength="90.0" lengthAdjust="spacingAndGlyphs" transform="rotate(-90 286.10 597.00)">Fold change of pStat5 level</text>
<line x1="319.00" y1="577.10" x2="335.40" y2="577.10" stroke="#1e1e1e" stroke-width="1.2"/>
<circle cx="327.20" cy="573.10" r="1.15" fill="#262626"/>
<text x="322.45" y="655.00" font-size="8.9" text-anchor="end" stroke="#231f20" stroke-width="0.2" textLength="38" lengthAdjust="spacingAndGlyphs" transform="rotate(-45 322.45 655.00)">WT B6/PBS</text>
<text x="337.20" y="651.80" font-size="8.9" text-anchor="end" stroke="#231f20" stroke-width="0.2" textLength="50" lengthAdjust="spacingAndGlyphs" transform="rotate(-45 337.20 651.80)">WT B6/Lysates</text>
<rect x="431.60" y="269.50" width="6.20" height="21.10" fill="#8f9cbd"/>
<rect x="442.50" y="279.80" width="6.20" height="10.80" fill="#e3897d"/>
<line x1="445.60" y1="279.80" x2="445.60" y2="277.50" stroke="#e3897d" stroke-width="0.9"/>
<line x1="444.00" y1="277.50" x2="447.20" y2="277.50" stroke="#e3897d" stroke-width="1.0"/>
<rect x="461.20" y="254.80" width="6.20" height="35.80" fill="#8f9cbd"/>
<rect x="472.10" y="273.80" width="6.20" height="16.80" fill="#e3897d"/>
<line x1="464.30" y1="254.80" x2="464.30" y2="251.00" stroke="#8f9cbd" stroke-width="0.9"/>
<line x1="462.70" y1="251.00" x2="465.90" y2="251.00" stroke="#8f9cbd" stroke-width="1.0"/>
<line x1="475.20" y1="273.80" x2="475.20" y2="271.50" stroke="#e3897d" stroke-width="0.9"/>
<line x1="473.60" y1="271.50" x2="476.80" y2="271.50" stroke="#e3897d" stroke-width="1.0"/>
<rect x="491.00" y="236.90" width="6.20" height="53.70" fill="#8f9cbd"/>
<rect x="501.90" y="248.40" width="6.20" height="42.20" fill="#e3897d"/>
<line x1="494.10" y1="236.90" x2="494.10" y2="232.00" stroke="#8f9cbd" stroke-width="0.9"/>
<line x1="492.50" y1="232.00" x2="495.70" y2="232.00" stroke="#8f9cbd" stroke-width="1.0"/>
<line x1="505.00" y1="248.40" x2="505.00" y2="245.50" stroke="#e3897d" stroke-width="0.9"/>
<line x1="503.40" y1="245.50" x2="506.60" y2="245.50" stroke="#e3897d" stroke-width="1.0"/>
<line x1="397.50" y1="204.00" x2="397.50" y2="291.10" stroke="#2b2b2b" stroke-width="1.2"/>
<line x1="396.90" y1="290.50" x2="513.20" y2="290.50" stroke="#2b2b2b" stroke-width="1.2"/>
<line x1="394.70" y1="290.60" x2="397.50" y2="290.60" stroke="#2b2b2b" stroke-width="1.0"/>
<text x="391.40" y="293.68" font-size="8.8" text-anchor="end" stroke="#231f20" stroke-width="0.2" textLength="4.4" lengthAdjust="spacingAndGlyphs">0</text>
<line x1="394.70" y1="269.70" x2="397.50" y2="269.70" stroke="#2b2b2b" stroke-width="1.0"/>
<text x="391.40" y="272.78" font-size="8.8" text-anchor="end" stroke="#231f20" stroke-width="0.2" textLength="4.4" lengthAdjust="spacingAndGlyphs">1</text>
<line x1="394.70" y1="248.80" x2="397.50" y2="248.80" stroke="#2b2b2b" stroke-width="1.0"/>
<text x="391.40" y="251.88" font-size="8.8" text-anchor="end" stroke="#231f20" stroke-width="0.2" textLength="4.4" lengthAdjust="spacingAndGlyphs">2</text>
<line x1="394.70" y1="227.90" x2="397.50" y2="227.90" stroke="#2b2b2b" stroke-width="1.0"/>
<text x="391.40" y="230.98" font-size="8.8" text-anchor="end" stroke="#231f20" stroke-width="0.2" textLength="4.4" lengthAdjust="spacingAndGlyphs">3</text>
<line x1="394.70" y1="207.00" x2="397.50" y2="207.00" stroke="#2b2b2b" stroke-width="1.0"/>
<text x="391.40" y="210.08" font-size="8.8" text-anchor="end" stroke="#231f20" stroke-width="0.2" textLength="4.4" lengthAdjust="spacingAndGlyphs">4</text>
<line x1="410.50" y1="290.50" x2="410.50" y2="293.30" stroke="#2b2b2b" stroke-width="1.0"/>
<line x1="439.50" y1="290.50" x2="439.50" y2="293.30" stroke="#2b2b2b" stroke-width="1.0"/>
<line x1="469.50" y1="290.50" x2="469.50" y2="293.30" stroke="#2b2b2b" stroke-width="1.0"/>
<line x1="499.50" y1="290.50" x2="499.50" y2="293.30" stroke="#2b2b2b" stroke-width="1.0"/>
<circle cx="433.50" cy="270.00" r="1.55" fill="none" stroke="#26345a" stroke-width="1.25"/>
<circle cx="435.30" cy="270.00" r="1.55" fill="none" stroke="#26345a" stroke-width="1.25"/>
<circle cx="437.00" cy="270.00" r="1.55" fill="none" stroke="#26345a" stroke-width="1.25"/>
<circle cx="464.30" cy="250.80" r="1.55" fill="none" stroke="#26345a" stroke-width="1.25"/>
<circle cx="466.40" cy="254.20" r="1.55" fill="none" stroke="#26345a" stroke-width="1.25"/>
<circle cx="462.50" cy="257.50" r="1.55" fill="none" stroke="#26345a" stroke-width="1.25"/>
<circle cx="493.80" cy="231.70" r="1.55" fill="none" stroke="#26345a" stroke-width="1.25"/>
<circle cx="493.80" cy="236.30" r="1.55" fill="none" stroke="#26345a" stroke-width="1.25"/>
<circle cx="493.80" cy="241.00" r="1.55" fill="none" stroke="#26345a" stroke-width="1.25"/>
<circle cx="443.60" cy="279.60" r="1.55" fill="none" stroke="#5e2028" stroke-width="1.25"/>
<circle cx="445.60" cy="278.10" r="1.55" fill="none" stroke="#5e2028" stroke-width="1.25"/>
<circle cx="448.10" cy="278.60" r="1.55" fill="none" stroke="#5e2028" stroke-width="1.25"/>
<circle cx="475.60" cy="272.10" r="1.55" fill="none" stroke="#5e2028" stroke-width="1.25"/>
<circle cx="477.70" cy="273.60" r="1.55" fill="none" stroke="#5e2028" stroke-width="1.25"/>
<circle cx="473.50" cy="275.00" r="1.55" fill="none" stroke="#5e2028" stroke-width="1.25"/>
<circle cx="507.30" cy="245.00" r="1.55" fill="none" stroke="#5e2028" stroke-width="1.25"/>
<circle cx="505.40" cy="248.70" r="1.55" fill="none" stroke="#5e2028" stroke-width="1.25"/>
<circle cx="505.00" cy="252.50" r="1.55" fill="none" stroke="#5e2028" stroke-width="1.25"/>
<rect x="400.9" y="288.70" width="8.1" height="3.8" rx="1.9" fill="#262626"/>
<ellipse cx="402.90" cy="290.60" rx="0.55" ry="0.8" fill="#7a7a7a"/>
<ellipse cx="404.95" cy="290.60" rx="0.55" ry="0.8" fill="#7a7a7a"/>
<ellipse cx="407.00" cy="290.60" rx="0.55" ry="0.8" fill="#7a7a7a"/>
<rect x="411.9" y="288.70" width="8.1" height="3.8" rx="1.9" fill="#262626"/>
<ellipse cx="413.90" cy="290.60" rx="0.55" ry="0.8" fill="#7a7a7a"/>
<ellipse cx="415.95" cy="290.60" rx="0.55" ry="0.8" fill="#7a7a7a"/>
<ellipse cx="418.00" cy="290.60" rx="0.55" ry="0.8" fill="#7a7a7a"/>
<line x1="434.60" y1="264.00" x2="445.80" y2="264.00" stroke="#1e1e1e" stroke-width="1.2"/>
<circle cx="436.50" cy="260.00" r="1.15" fill="#262626"/>
<circle cx="440.20" cy="260.00" r="1.15" fill="#262626"/>
<circle cx="443.90" cy="260.00" r="1.15" fill="#262626"/>
<line x1="464.10" y1="245.20" x2="475.40" y2="245.20" stroke="#1e1e1e" stroke-width="1.2"/>
<circle cx="466.05" cy="241.20" r="1.15" fill="#262626"/>
<circle cx="469.75" cy="241.20" r="1.15" fill="#262626"/>
<circle cx="473.45" cy="241.20" r="1.15" fill="#262626"/>
<line x1="494.10" y1="225.40" x2="505.00" y2="225.40" stroke="#1e1e1e" stroke-width="1.2"/>
<circle cx="499.55" cy="221.40" r="1.15" fill="#262626"/>
<text x="410.60" y="304.60" font-size="9.0" text-anchor="middle" stroke="#231f20" stroke-width="0.2" textLength="4.65" lengthAdjust="spacingAndGlyphs">0</text>
<text x="440.20" y="304.60" font-size="9.0" text-anchor="middle" stroke="#231f20" stroke-width="0.2" textLength="4.65" lengthAdjust="spacingAndGlyphs">1</text>
<text x="469.80" y="304.60" font-size="9.0" text-anchor="middle" stroke="#231f20" stroke-width="0.2" textLength="4.65" lengthAdjust="spacingAndGlyphs">3</text>
<text x="499.60" y="304.60" font-size="9.0" text-anchor="middle" stroke="#231f20" stroke-width="0.2" textLength="9.31" lengthAdjust="spacingAndGlyphs">10</text>
<text x="456.30" y="317.00" font-size="9.2" text-anchor="middle" stroke="#231f20" stroke-width="0.2" textLength="38.7" lengthAdjust="spacingAndGlyphs">EPO (U/mL)</text>
<text x="381.00" y="247.30" font-size="8.8" text-anchor="middle" stroke="#231f20" stroke-width="0.2" textLength="83.6" lengthAdjust="spacingAndGlyphs" transform="rotate(-90 381.00 247.30)">Fold change of pErk level</text>
<rect x="403.80" y="212.00" width="6.20" height="6.20" fill="#8f9cbd"/>
<rect x="403.80" y="224.30" width="6.20" height="6.00" fill="#e3897d"/>
<text x="413.10" y="217.40" font-size="8.3" text-anchor="start" stroke="#231f20" stroke-width="0.05" textLength="28.1" lengthAdjust="spacingAndGlyphs">AA/PBS</text>
<text x="413.10" y="229.40" font-size="8.3" text-anchor="start" stroke="#231f20" stroke-width="0.05" textLength="38.0" lengthAdjust="spacingAndGlyphs">AA/Hemin</text>
<rect x="431.60" y="628.60" width="6.20" height="11.80" fill="#8f9cbd"/>
<rect x="442.50" y="634.80" width="6.20" height="5.60" fill="#e3897d"/>
<rect x="461.20" y="604.80" width="6.20" height="35.60" fill="#8f9cbd"/>
<rect x="472.10" y="619.80" width="6.20" height="20.60" fill="#e3897d"/>
<line x1="464.30" y1="604.80" x2="464.30" y2="600.00" stroke="#8f9cbd" stroke-width="0.9"/>
<line x1="462.70" y1="600.00" x2="465.90" y2="600.00" stroke="#8f9cbd" stroke-width="1.0"/>
<line x1="475.20" y1="619.80" x2="475.20" y2="610.00" stroke="#e3897d" stroke-width="0.9"/>
<line x1="473.60" y1="610.00" x2="476.80" y2="610.00" stroke="#e3897d" stroke-width="1.0"/>
<rect x="491.00" y="586.90" width="6.20" height="53.50" fill="#8f9cbd"/>
<rect x="501.90" y="604.20" width="6.20" height="36.20" fill="#e3897d"/>
<line x1="494.10" y1="586.90" x2="494.10" y2="581.00" stroke="#8f9cbd" stroke-width="0.9"/>
<line x1="492.50" y1="581.00" x2="495.70" y2="581.00" stroke="#8f9cbd" stroke-width="1.0"/>
<line x1="505.00" y1="604.20" x2="505.00" y2="595.00" stroke="#e3897d" stroke-width="0.9"/>
<line x1="503.40" y1="595.00" x2="506.60" y2="595.00" stroke="#e3897d" stroke-width="1.0"/>
<line x1="397.50" y1="553.00" x2="397.50" y2="641.10" stroke="#2b2b2b" stroke-width="1.2"/>
<line x1="396.90" y1="640.50" x2="513.20" y2="640.50" stroke="#2b2b2b" stroke-width="1.2"/>
<line x1="394.70" y1="640.40" x2="397.50" y2="640.40" stroke="#2b2b2b" stroke-width="1.0"/>
<text x="391.40" y="643.48" font-size="8.8" text-anchor="end" stroke="#231f20" stroke-width="0.2" textLength="4.4" lengthAdjust="spacingAndGlyphs">0</text>
<line x1="394.70" y1="619.30" x2="397.50" y2="619.30" stroke="#2b2b2b" stroke-width="1.0"/>
<text x="391.40" y="622.38" font-size="8.8" text-anchor="end" stroke="#231f20" stroke-width="0.2" textLength="4.4" lengthAdjust="spacingAndGlyphs">2</text>
<line x1="394.70" y1="598.20" x2="397.50" y2="598.20" stroke="#2b2b2b" stroke-width="1.0"/>
<text x="391.40" y="601.28" font-size="8.8" text-anchor="end" stroke="#231f20" stroke-width="0.2" textLength="4.4" lengthAdjust="spacingAndGlyphs">4</text>
<line x1="394.70" y1="577.10" x2="397.50" y2="577.10" stroke="#2b2b2b" stroke-width="1.0"/>
<text x="391.40" y="580.18" font-size="8.8" text-anchor="end" stroke="#231f20" stroke-width="0.2" textLength="4.4" lengthAdjust="spacingAndGlyphs">6</text>
<line x1="394.70" y1="556.00" x2="397.50" y2="556.00" stroke="#2b2b2b" stroke-width="1.0"/>
<text x="391.40" y="559.08" font-size="8.8" text-anchor="end" stroke="#231f20" stroke-width="0.2" textLength="4.4" lengthAdjust="spacingAndGlyphs">8</text>
<line x1="410.50" y1="640.50" x2="410.50" y2="643.30" stroke="#2b2b2b" stroke-width="1.0"/>
<line x1="439.50" y1="640.50" x2="439.50" y2="643.30" stroke="#2b2b2b" stroke-width="1.0"/>
<line x1="469.50" y1="640.50" x2="469.50" y2="643.30" stroke="#2b2b2b" stroke-width="1.0"/>
<line x1="499.50" y1="640.50" x2="499.50" y2="643.30" stroke="#2b2b2b" stroke-width="1.0"/>
<circle cx="433.50" cy="629.80" r="1.55" fill="none" stroke="#26345a" stroke-width="1.25"/>
<circle cx="435.30" cy="629.80" r="1.55" fill="none" stroke="#26345a" stroke-width="1.25"/>
<circle cx="437.00" cy="629.80" r="1.55" fill="none" stroke="#26345a" stroke-width="1.25"/>
<circle cx="464.30" cy="597.90" r="1.55" fill="none" stroke="#26345a" stroke-width="1.25"/>
<circle cx="464.30" cy="601.90" r="1.55" fill="none" stroke="#26345a" stroke-width="1.25"/>
<circle cx="466.40" cy="605.40" r="1.55" fill="none" stroke="#26345a" stroke-width="1.25"/>
<circle cx="462.30" cy="607.70" r="1.55" fill="none" stroke="#26345a" stroke-width="1.25"/>
<circle cx="464.30" cy="604.80" r="1.55" fill="none" stroke="#26345a" stroke-width="1.25"/>
<circle cx="493.80" cy="578.60" r="1.55" fill="none" stroke="#26345a" stroke-width="1.25"/>
<circle cx="493.80" cy="584.80" r="1.55" fill="none" stroke="#26345a" stroke-width="1.25"/>
<circle cx="495.80" cy="589.80" r="1.55" fill="none" stroke="#26345a" stroke-width="1.25"/>
<circle cx="491.80" cy="591.80" r="1.55" fill="none" stroke="#26345a" stroke-width="1.25"/>
<circle cx="444.40" cy="635.20" r="1.55" fill="none" stroke="#5e2028" stroke-width="1.25"/>
<circle cx="446.70" cy="633.80" r="1.55" fill="none" stroke="#5e2028" stroke-width="1.25"/>
<circle cx="448.50" cy="635.20" r="1.55" fill="none" stroke="#5e2028" stroke-width="1.25"/>
<circle cx="446.20" cy="636.60" r="1.55" fill="none" stroke="#5e2028" stroke-width="1.25"/>
<circle cx="475.60" cy="610.20" r="1.55" fill="none" stroke="#5e2028" stroke-width="1.25"/>
<circle cx="475.60" cy="615.20" r="1.55" fill="none" stroke="#5e2028" stroke-width="1.25"/>
<circle cx="473.30" cy="625.60" r="1.55" fill="none" stroke="#5e2028" stroke-width="1.25"/>
<circle cx="477.90" cy="625.00" r="1.55" fill="none" stroke="#5e2028" stroke-width="1.25"/>
<circle cx="505.00" cy="592.10" r="1.55" fill="none" stroke="#5e2028" stroke-width="1.25"/>
<circle cx="505.00" cy="598.70" r="1.55" fill="none" stroke="#5e2028" stroke-width="1.25"/>
<circle cx="505.00" cy="609.80" r="1.55" fill="none" stroke="#5e2028" stroke-width="1.25"/>
<circle cx="505.00" cy="614.00" r="1.55" fill="none" stroke="#5e2028" stroke-width="1.25"/>
<rect x="400.9" y="638.50" width="8.1" height="3.8" rx="1.9" fill="#262626"/>
<ellipse cx="402.90" cy="640.40" rx="0.55" ry="0.8" fill="#7a7a7a"/>
<ellipse cx="404.95" cy="640.40" rx="0.55" ry="0.8" fill="#7a7a7a"/>
<ellipse cx="407.00" cy="640.40" rx="0.55" ry="0.8" fill="#7a7a7a"/>
<rect x="411.9" y="638.50" width="8.1" height="3.8" rx="1.9" fill="#262626"/>
<ellipse cx="413.90" cy="640.40" rx="0.55" ry="0.8" fill="#7a7a7a"/>
<ellipse cx="415.95" cy="640.40" rx="0.55" ry="0.8" fill="#7a7a7a"/>
<ellipse cx="418.00" cy="640.40" rx="0.55" ry="0.8" fill="#7a7a7a"/>
<line x1="434.60" y1="625.50" x2="445.60" y2="625.50" stroke="#1e1e1e" stroke-width="1.2"/>
<circle cx="436.40" cy="621.50" r="1.15" fill="#262626"/>
<circle cx="440.10" cy="621.50" r="1.15" fill="#262626"/>
<circle cx="443.80" cy="621.50" r="1.15" fill="#262626"/>
<line x1="464.30" y1="593.60" x2="475.00" y2="593.60" stroke="#1e1e1e" stroke-width="1.2"/>
<circle cx="467.80" cy="589.60" r="1.15" fill="#262626"/>
<circle cx="471.50" cy="589.60" r="1.15" fill="#262626"/>
<line x1="494.10" y1="573.70" x2="504.70" y2="573.70" stroke="#1e1e1e" stroke-width="1.2"/>
<circle cx="499.40" cy="569.70" r="1.15" fill="#262626"/>
<text x="410.60" y="654.40" font-size="9.0" text-anchor="middle" stroke="#231f20" stroke-width="0.2" textLength="4.65" lengthAdjust="spacingAndGlyphs">0</text>
<text x="440.20" y="654.40" font-size="9.0" text-anchor="middle" stroke="#231f20" stroke-width="0.2" textLength="4.65" lengthAdjust="spacingAndGlyphs">1</text>
<text x="469.80" y="654.40" font-size="9.0" text-anchor="middle" stroke="#231f20" stroke-width="0.2" textLength="4.65" lengthAdjust="spacingAndGlyphs">3</text>
<text x="499.60" y="654.40" font-size="9.0" text-anchor="middle" stroke="#231f20" stroke-width="0.2" textLength="9.31" lengthAdjust="spacingAndGlyphs">10</text>
<text x="456.30" y="666.80" font-size="9.2" text-anchor="middle" stroke="#231f20" stroke-width="0.2" textLength="38.7" lengthAdjust="spacingAndGlyphs">EPO (U/mL)</text>
<text x="381.00" y="597.00" font-size="8.8" text-anchor="middle" stroke="#231f20" stroke-width="0.2" textLength="83.6" lengthAdjust="spacingAndGlyphs" transform="rotate(-90 381.00 597.00)">Fold change of pErk level</text>
<rect x="403.80" y="561.00" width="6.20" height="6.20" fill="#8f9cbd"/>
<rect x="403.80" y="573.30" width="6.20" height="6.00" fill="#e3897d"/>
<text x="413.10" y="566.40" font-size="8.3" text-anchor="start" stroke="#231f20" stroke-width="0.05" textLength="38.5" lengthAdjust="spacingAndGlyphs">WT B6/PBS</text>
<text x="413.10" y="578.40" font-size="8.3" text-anchor="start" stroke="#231f20" stroke-width="0.05" textLength="46.0" lengthAdjust="spacingAndGlyphs">WT B6/Lysate</text>
<text x="354.60" y="49.60" font-size="8.4" text-anchor="middle" stroke="#231f20" stroke-width="0.05" textLength="16.1" lengthAdjust="spacingAndGlyphs">EPO</text>
<text x="354.60" y="58.30" font-size="8.2" text-anchor="middle" stroke="#231f20" stroke-width="0.05" textLength="24.3" lengthAdjust="spacingAndGlyphs">(U/mL)</text>
<text x="380.80" y="45.60" font-size="8.4" text-anchor="middle" stroke="#231f20" stroke-width="0.05">0</text>
<line x1="373.10" y1="51.00" x2="388.50" y2="51.00" stroke="#444" stroke-width="1.3"/>
<text x="410.50" y="45.60" font-size="8.4" text-anchor="middle" stroke="#231f20" stroke-width="0.05">1</text>
<line x1="402.80" y1="51.00" x2="418.20" y2="51.00" stroke="#444" stroke-width="1.3"/>
<text x="440.00" y="45.60" font-size="8.4" text-anchor="middle" stroke="#231f20" stroke-width="0.05">3</text>
<line x1="432.30" y1="51.00" x2="447.70" y2="51.00" stroke="#444" stroke-width="1.3"/>
<text x="470.00" y="45.60" font-size="8.4" text-anchor="middle" stroke="#231f20" stroke-width="0.05">10</text>
<line x1="462.30" y1="51.00" x2="477.70" y2="51.00" stroke="#444" stroke-width="1.3"/>
<text x="378.30" y="91.50" font-size="8.0" text-anchor="start" stroke="#231f20" stroke-width="0.2" textLength="27.5" lengthAdjust="spacingAndGlyphs" transform="rotate(-90 378.30 91.50)">AA/PBS</text>
<text x="392.30" y="91.50" font-size="8.0" text-anchor="start" stroke="#231f20" stroke-width="0.2" textLength="37.3" lengthAdjust="spacingAndGlyphs" transform="rotate(-90 392.30 91.50)">AA/Hemin</text>
<text x="406.30" y="91.50" font-size="8.0" text-anchor="start" stroke="#231f20" stroke-width="0.2" textLength="27.5" lengthAdjust="spacingAndGlyphs" transform="rotate(-90 406.30 91.50)">AA/PBS</text>
<text x="420.30" y="91.50" font-size="8.0" text-anchor="start" stroke="#231f20" stroke-width="0.2" textLength="37.3" lengthAdjust="spacingAndGlyphs" transform="rotate(-90 420.30 91.50)">AA/Hemin</text>
<text x="434.30" y="91.50" font-size="8.0" text-anchor="start" stroke="#231f20" stroke-width="0.2" textLength="27.5" lengthAdjust="spacingAndGlyphs" transform="rotate(-90 434.30 91.50)">AA/PBS</text>
<text x="448.30" y="91.50" font-size="8.0" text-anchor="start" stroke="#231f20" stroke-width="0.2" textLength="37.3" lengthAdjust="spacingAndGlyphs" transform="rotate(-90 448.30 91.50)">AA/Hemin</text>
<text x="462.30" y="91.50" font-size="8.0" text-anchor="start" stroke="#231f20" stroke-width="0.2" textLength="27.5" lengthAdjust="spacingAndGlyphs" transform="rotate(-90 462.30 91.50)">AA/PBS</text>
<text x="476.30" y="91.50" font-size="8.0" text-anchor="start" stroke="#231f20" stroke-width="0.2" textLength="37.3" lengthAdjust="spacingAndGlyphs" transform="rotate(-90 476.30 91.50)">AA/Hemin</text>
<defs><filter id="bl94" x="-20%" y="-80%" width="140%" height="260%"><feGaussianBlur stdDeviation="0.6 0.5"/></filter></defs>
<rect x="366.3" y="94.9" width="114.59999999999997" height="15.1" fill="#fbfbfb"/>
<rect x="366.3" y="112.5" width="114.59999999999997" height="14.6" fill="#f7f7f7"/>
<g filter="url(#bl94)">
<rect x="397.74" y="104.36" width="10.6" height="2.6" fill="#8a8a8a" rx="1"/>
<rect x="397.74" y="99.86" width="10.6" height="4.0" fill="#e6e6e6" rx="1"/>
<rect x="411.91" y="104.59" width="10.6" height="2.4" fill="#cdcdcd" rx="1"/>
<rect x="411.91" y="100.24" width="10.6" height="3.5" fill="#f0f0f0" rx="1"/>
<rect x="426.08" y="104.32" width="10.6" height="3.2" fill="#575757" rx="1"/>
<rect x="426.08" y="99.47" width="10.6" height="4.5" fill="#d9d9d9" rx="1"/>
<rect x="440.25" y="104.65" width="10.6" height="2.6" fill="#cbcbcb" rx="1"/>
<rect x="440.25" y="100.40" width="10.6" height="3.5" fill="#efefef" rx="1"/>
<rect x="454.42" y="104.03" width="10.6" height="3.3" fill="#141414" rx="1"/>
<rect x="454.42" y="99.28" width="10.6" height="4.8" fill="#c2c2c2" rx="1"/>
<rect x="468.59" y="104.06" width="10.6" height="2.7" fill="#acacac" rx="1"/>
<rect x="468.59" y="99.91" width="10.6" height="3.6" fill="#e6e6e6" rx="1"/>
<rect x="369.20" y="116.55" width="11" height="2.8" fill="#6e6e6e" rx="1"/>
<rect x="369.20" y="121.15" width="11" height="2.8" fill="#7e7e7e" rx="1"/>
<rect x="383.37" y="116.70" width="11" height="2.8" fill="#7a7a7a" rx="1"/>
<rect x="383.37" y="121.30" width="11" height="2.8" fill="#8e8e8e" rx="1"/>
<rect x="397.54" y="116.85" width="11" height="2.8" fill="#626262" rx="1"/>
<rect x="397.54" y="121.45" width="11" height="2.8" fill="#6a6a6a" rx="1"/>
<rect x="411.71" y="117.00" width="11" height="2.8" fill="#505050" rx="1"/>
<rect x="411.71" y="121.60" width="11" height="2.8" fill="#8a8a8a" rx="1"/>
<rect x="425.88" y="117.15" width="11" height="2.8" fill="#505050" rx="1"/>
<rect x="425.88" y="121.75" width="11" height="2.8" fill="#666666" rx="1"/>
<rect x="440.05" y="117.30" width="11" height="2.8" fill="#666666" rx="1"/>
<rect x="440.05" y="121.90" width="11" height="2.8" fill="#8a8a8a" rx="1"/>
<rect x="454.22" y="117.45" width="11" height="2.8" fill="#383838" rx="1"/>
<rect x="454.22" y="122.05" width="11" height="2.8" fill="#585858" rx="1"/>
<rect x="468.39" y="117.60" width="11" height="2.8" fill="#b0b0b0" rx="1"/>
<rect x="468.39" y="122.20" width="11" height="2.8" fill="#c0c0c0" rx="1"/>
</g>
<rect x="366.3" y="94.9" width="114.59999999999997" height="15.1" fill="none" stroke="#333" stroke-width="1.25" rx="0.8"/>
<rect x="366.3" y="112.5" width="114.59999999999997" height="14.6" fill="none" stroke="#333" stroke-width="1.25" rx="0.8"/>
<text x="363.00" y="105.10" font-size="8.0" text-anchor="end" stroke="#231f20" stroke-width="0.2" textLength="16.2" lengthAdjust="spacingAndGlyphs">pErk</text>
<text x="363.00" y="122.50" font-size="8.0" text-anchor="end" stroke="#231f20" stroke-width="0.2" textLength="11.2" lengthAdjust="spacingAndGlyphs">Erk</text>
<line x1="481.60" y1="97.10" x2="484.40" y2="97.10" stroke="#333" stroke-width="1.1"/>
<text x="487.50" y="100.10" font-size="8.4" text-anchor="start" stroke="#231f20" stroke-width="0.08" textLength="8.9" lengthAdjust="spacingAndGlyphs">55</text>
<line x1="481.60" y1="114.60" x2="484.40" y2="114.60" stroke="#333" stroke-width="1.1"/>
<text x="487.50" y="117.60" font-size="8.4" text-anchor="start" stroke="#231f20" stroke-width="0.08" textLength="8.9" lengthAdjust="spacingAndGlyphs">55</text>
<text x="354.60" y="374.80" font-size="8.4" text-anchor="middle" stroke="#231f20" stroke-width="0.05" textLength="16.1" lengthAdjust="spacingAndGlyphs">EPO</text>
<text x="354.60" y="383.50" font-size="8.2" text-anchor="middle" stroke="#231f20" stroke-width="0.05" textLength="24.3" lengthAdjust="spacingAndGlyphs">(U/mL)</text>
<text x="380.60" y="373.40" font-size="8.4" text-anchor="middle" stroke="#231f20" stroke-width="0.05">0</text>
<line x1="372.90" y1="377.90" x2="388.30" y2="377.90" stroke="#444" stroke-width="1.3"/>
<text x="409.60" y="373.40" font-size="8.4" text-anchor="middle" stroke="#231f20" stroke-width="0.05">1</text>
<line x1="401.90" y1="377.90" x2="417.30" y2="377.90" stroke="#444" stroke-width="1.3"/>
<text x="438.20" y="373.40" font-size="8.4" text-anchor="middle" stroke="#231f20" stroke-width="0.05">3</text>
<line x1="430.50" y1="377.90" x2="445.90" y2="377.90" stroke="#444" stroke-width="1.3"/>
<text x="467.30" y="373.40" font-size="8.4" text-anchor="middle" stroke="#231f20" stroke-width="0.05">10</text>
<line x1="459.60" y1="377.90" x2="475.00" y2="377.90" stroke="#444" stroke-width="1.3"/>
<text x="378.30" y="430.70" font-size="8.0" text-anchor="start" stroke="#231f20" stroke-width="0.2" textLength="40.8" lengthAdjust="spacingAndGlyphs" transform="rotate(-90 378.30 430.70)">WT B6/PBS</text>
<text x="392.30" y="430.70" font-size="8.0" text-anchor="start" stroke="#231f20" stroke-width="0.2" textLength="49.3" lengthAdjust="spacingAndGlyphs" transform="rotate(-90 392.30 430.70)">WT B6/Lysate</text>
<text x="406.30" y="430.70" font-size="8.0" text-anchor="start" stroke="#231f20" stroke-width="0.2" textLength="40.8" lengthAdjust="spacingAndGlyphs" transform="rotate(-90 406.30 430.70)">WT B6/PBS</text>
<text x="420.30" y="430.70" font-size="8.0" text-anchor="start" stroke="#231f20" stroke-width="0.2" textLength="49.3" lengthAdjust="spacingAndGlyphs" transform="rotate(-90 420.30 430.70)">WT B6/Lysate</text>
<text x="434.30" y="430.70" font-size="8.0" text-anchor="start" stroke="#231f20" stroke-width="0.2" textLength="40.8" lengthAdjust="spacingAndGlyphs" transform="rotate(-90 434.30 430.70)">WT B6/PBS</text>
<text x="448.30" y="430.70" font-size="8.0" text-anchor="start" stroke="#231f20" stroke-width="0.2" textLength="49.3" lengthAdjust="spacingAndGlyphs" transform="rotate(-90 448.30 430.70)">WT B6/Lysate</text>
<text x="462.30" y="430.70" font-size="8.0" text-anchor="start" stroke="#231f20" stroke-width="0.2" textLength="40.8" lengthAdjust="spacingAndGlyphs" transform="rotate(-90 462.30 430.70)">WT B6/PBS</text>
<text x="476.30" y="430.70" font-size="8.0" text-anchor="start" stroke="#231f20" stroke-width="0.2" textLength="49.3" lengthAdjust="spacingAndGlyphs" transform="rotate(-90 476.30 430.70)">WT B6/Lysate</text>
<defs><filter id="bl434" x="-20%" y="-80%" width="140%" height="260%"><feGaussianBlur stdDeviation="0.6 0.5"/></filter></defs>
<rect x="366.3" y="434.1" width="114.59999999999997" height="15.1" fill="#fbfbfb"/>
<rect x="366.3" y="452.3" width="114.59999999999997" height="14.6" fill="#f7f7f7"/>
<g filter="url(#bl434)">
<rect x="397.74" y="442.76" width="10.6" height="2.6" fill="#c6c6c6" rx="1"/>
<rect x="397.74" y="439.21" width="10.6" height="2.5" fill="#f3f3f3" rx="1"/>
<rect x="411.91" y="443.04" width="10.6" height="2.3" fill="#e0e0e0" rx="1"/>
<rect x="426.08" y="442.72" width="10.6" height="3.0" fill="#555555" rx="1"/>
<rect x="426.08" y="439.32" width="10.6" height="2.4" fill="#e2e2e2" rx="1"/>
<rect x="440.25" y="443.05" width="10.6" height="2.6" fill="#a8a8a8" rx="1"/>
<rect x="440.25" y="439.55" width="10.6" height="2.2" fill="#f0f0f0" rx="1"/>
<rect x="454.42" y="442.73" width="10.6" height="3.3" fill="#101010" rx="1"/>
<rect x="454.42" y="439.28" width="10.6" height="2.6" fill="#b8b8b8" rx="1"/>
<rect x="468.59" y="442.61" width="10.6" height="2.8" fill="#6a6a6a" rx="1"/>
<rect x="468.59" y="439.31" width="10.6" height="2.4" fill="#cccccc" rx="1"/>
<rect x="369.20" y="457.40" width="11" height="2.6999999999999997" fill="#8a8a8a" rx="1"/>
<rect x="369.20" y="461.40" width="11" height="2.9" fill="#303030" rx="1"/>
<rect x="383.37" y="457.50" width="11" height="2.6999999999999997" fill="#9a9a9a" rx="1"/>
<rect x="383.37" y="461.50" width="11" height="2.9" fill="#8a8a8a" rx="1"/>
<rect x="397.54" y="457.60" width="11" height="2.6999999999999997" fill="#555555" rx="1"/>
<rect x="397.54" y="461.60" width="11" height="2.9" fill="#141414" rx="1"/>
<rect x="411.71" y="457.70" width="11" height="2.6999999999999997" fill="#7a7a7a" rx="1"/>
<rect x="411.71" y="461.70" width="11" height="2.9" fill="#555555" rx="1"/>
<rect x="425.88" y="457.80" width="11" height="2.6999999999999997" fill="#444444" rx="1"/>
<rect x="425.88" y="461.80" width="11" height="2.9" fill="#141414" rx="1"/>
<rect x="440.05" y="457.90" width="11" height="2.6999999999999997" fill="#8a8a8a" rx="1"/>
<rect x="440.05" y="461.90" width="11" height="2.9" fill="#7a7a7a" rx="1"/>
<rect x="454.22" y="458.00" width="11" height="2.6999999999999997" fill="#454545" rx="1"/>
<rect x="454.22" y="462.00" width="11" height="2.9" fill="#222222" rx="1"/>
<rect x="468.39" y="458.10" width="11" height="2.6999999999999997" fill="#8c8c8c" rx="1"/>
<rect x="468.39" y="462.10" width="11" height="2.9" fill="#7a7a7a" rx="1"/>
</g>
<rect x="366.3" y="434.1" width="114.59999999999997" height="15.1" fill="none" stroke="#333" stroke-width="1.25" rx="0.8"/>
<rect x="366.3" y="452.3" width="114.59999999999997" height="14.6" fill="none" stroke="#333" stroke-width="1.25" rx="0.8"/>
<text x="363.00" y="444.30" font-size="8.0" text-anchor="end" stroke="#231f20" stroke-width="0.2" textLength="16.2" lengthAdjust="spacingAndGlyphs">pErk</text>
<text x="363.00" y="462.30" font-size="8.0" text-anchor="end" stroke="#231f20" stroke-width="0.2" textLength="11.2" lengthAdjust="spacingAndGlyphs">Erk</text>
<line x1="481.60" y1="439.40" x2="484.40" y2="439.40" stroke="#333" stroke-width="1.1"/>
<text x="487.50" y="442.40" font-size="8.4" text-anchor="start" stroke="#231f20" stroke-width="0.08" textLength="8.9" lengthAdjust="spacingAndGlyphs">55</text>
<line x1="481.60" y1="456.30" x2="484.40" y2="456.30" stroke="#333" stroke-width="1.1"/>
<text x="487.50" y="459.30" font-size="8.4" text-anchor="start" stroke="#231f20" stroke-width="0.08" textLength="8.9" lengthAdjust="spacingAndGlyphs">55</text></svg></body></html>
